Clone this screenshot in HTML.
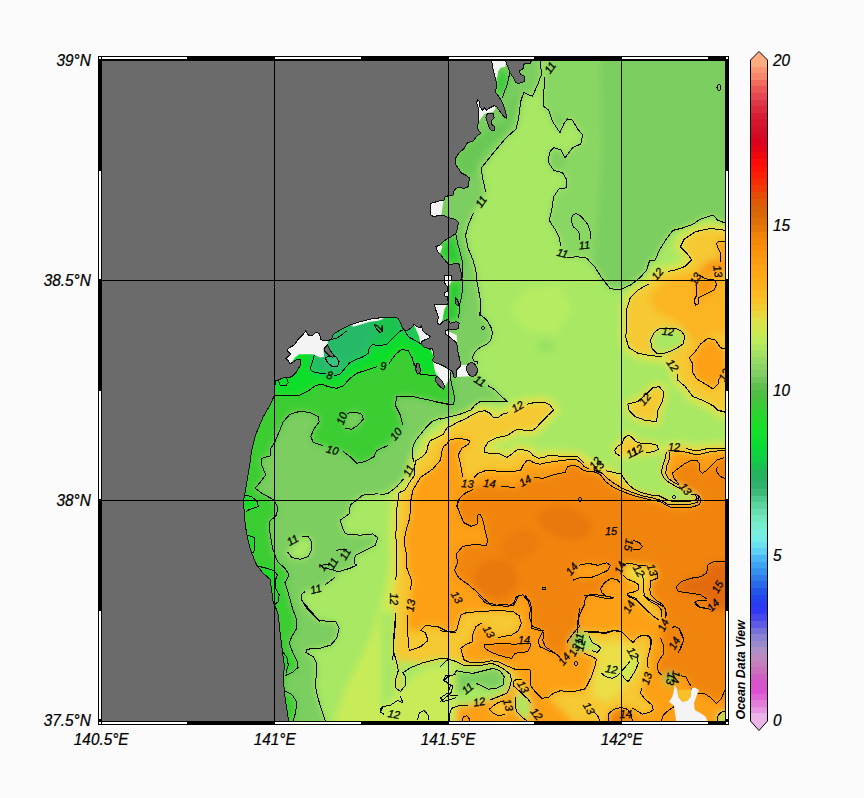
<!DOCTYPE html>
<html lang="en"><head><meta charset="utf-8"><title>Ocean Data View</title>
<style>html,body{margin:0;padding:0;background:#fbfbfb;}body{width:864px;height:798px;overflow:hidden;}svg{display:block;}text{font-family:"Liberation Sans",Arial,sans-serif;font-style:italic;fill:#000;}.ax{font-size:16.6px;stroke:#000;stroke-width:0.25px;}.cl{font-size:11px;fill:#000;stroke:#000;stroke-width:0.25px;}.ct{fill:none;stroke:#000;stroke-width:1;stroke-linejoin:round;shape-rendering:crispEdges;}</style></head><body>
<svg width="864" height="798" viewBox="0 0 864 798">
<defs>
<clipPath id="mapclip"><rect x="102" y="61" width="623" height="660"/></clipPath>
<filter id="blur" x="-5%" y="-5%" width="110%" height="110%"><feGaussianBlur stdDeviation="3.5"/></filter>
<linearGradient id="cb" x1="0" y1="0" x2="0" y2="1">
<stop offset="0.0000" stop-color="rgb(253,205,150)"/>
<stop offset="0.0132" stop-color="rgb(253,196,140)"/>
<stop offset="0.0206" stop-color="rgb(252,160,120)"/>
<stop offset="0.0353" stop-color="rgb(248,140,110)"/>
<stop offset="0.0500" stop-color="rgb(240,100,90)"/>
<stop offset="0.0721" stop-color="rgb(225,60,75)"/>
<stop offset="0.0941" stop-color="rgb(215,30,55)"/>
<stop offset="0.1162" stop-color="rgb(210,15,40)"/>
<stop offset="0.1382" stop-color="rgb(220,0,25)"/>
<stop offset="0.1603" stop-color="rgb(250,10,10)"/>
<stop offset="0.1750" stop-color="rgb(255,20,5)"/>
<stop offset="0.1971" stop-color="rgb(245,50,5)"/>
<stop offset="0.2191" stop-color="rgb(225,85,5)"/>
<stop offset="0.2338" stop-color="rgb(215,100,5)"/>
<stop offset="0.2559" stop-color="rgb(225,115,5)"/>
<stop offset="0.2706" stop-color="rgb(240,130,5)"/>
<stop offset="0.2926" stop-color="rgb(250,145,10)"/>
<stop offset="0.3221" stop-color="rgb(255,165,20)"/>
<stop offset="0.3515" stop-color="rgb(253,180,30)"/>
<stop offset="0.3735" stop-color="rgb(245,200,45)"/>
<stop offset="0.3956" stop-color="rgb(225,225,70)"/>
<stop offset="0.4176" stop-color="rgb(200,235,85)"/>
<stop offset="0.4324" stop-color="rgb(180,235,95)"/>
<stop offset="0.4544" stop-color="rgb(150,220,100)"/>
<stop offset="0.4765" stop-color="rgb(125,205,100)"/>
<stop offset="0.4985" stop-color="rgb(85,190,70)"/>
<stop offset="0.5132" stop-color="rgb(70,195,60)"/>
<stop offset="0.5353" stop-color="rgb(40,215,45)"/>
<stop offset="0.5574" stop-color="rgb(20,225,40)"/>
<stop offset="0.5794" stop-color="rgb(10,220,50)"/>
<stop offset="0.6015" stop-color="rgb(15,205,70)"/>
<stop offset="0.6235" stop-color="rgb(35,175,95)"/>
<stop offset="0.6456" stop-color="rgb(55,180,115)"/>
<stop offset="0.6603" stop-color="rgb(80,205,145)"/>
<stop offset="0.6750" stop-color="rgb(100,220,170)"/>
<stop offset="0.6897" stop-color="rgb(115,235,195)"/>
<stop offset="0.7044" stop-color="rgb(120,240,215)"/>
<stop offset="0.7191" stop-color="rgb(115,235,235)"/>
<stop offset="0.7338" stop-color="rgb(100,215,245)"/>
<stop offset="0.7485" stop-color="rgb(70,175,245)"/>
<stop offset="0.7632" stop-color="rgb(55,150,240)"/>
<stop offset="0.7779" stop-color="rgb(45,120,235)"/>
<stop offset="0.7926" stop-color="rgb(35,90,235)"/>
<stop offset="0.8074" stop-color="rgb(35,65,240)"/>
<stop offset="0.8221" stop-color="rgb(45,55,245)"/>
<stop offset="0.8368" stop-color="rgb(80,75,235)"/>
<stop offset="0.8515" stop-color="rgb(115,110,220)"/>
<stop offset="0.8662" stop-color="rgb(145,135,210)"/>
<stop offset="0.8809" stop-color="rgb(170,145,200)"/>
<stop offset="0.8956" stop-color="rgb(195,135,190)"/>
<stop offset="0.9103" stop-color="rgb(200,115,190)"/>
<stop offset="0.9250" stop-color="rgb(210,85,200)"/>
<stop offset="0.9397" stop-color="rgb(220,80,210)"/>
<stop offset="0.9544" stop-color="rgb(225,110,215)"/>
<stop offset="0.9691" stop-color="rgb(230,150,225)"/>
<stop offset="0.9838" stop-color="rgb(240,195,235)"/>
<stop offset="1.0000" stop-color="rgb(246,212,240)"/>
</linearGradient>
</defs>
<rect x="0" y="0" width="864" height="798" fill="#fbfbfb"/>
<g clip-path="url(#mapclip)">
<rect x="98" y="56" width="632" height="670" fill="#7cce60"/>
<g filter="url(#blur)">
<rect x="60" y="20" width="720" height="760" fill="#7cce60"/>
<polygon points="547.0,50.0 600.0,50.0 602.0,150.0 594.0,262.0 566.0,262.0 556.0,225.0 552.0,190.0 562.0,165.0 580.0,140.0 566.0,120.0 548.0,108.0" fill="rgb(137,215,99)"/>
<polygon points="540.0,50.0 540.0,61.3 541.7,73.8 537.5,85.1 532.4,96.3 523.7,92.6 520.7,101.4 518.7,117.6 516.2,128.9 506.1,137.7 493.6,152.7 481.1,168.3 483.1,180.3 485.6,191.6 481.1,201.6 473.5,212.9 468.5,224.2 465.5,235.4 468.0,248.0 473.0,260.0 475.8,270.0 476.7,280.0 478.3,288.3 480.0,298.3 480.8,310.0 480.0,313.3 481.7,315.8 486.7,320.0 490.8,326.7 492.5,333.3 490.8,340.0 486.7,344.2 480.0,347.5 475.0,351.7 472.5,356.7 473.3,360.8 477.5,361.7 477.5,364.2 472.0,370.0 488.3,385.8 495.0,390.0 501.7,396.7 507.5,401.7 495.0,401.3 480.0,401.7 475.0,405.0 470.8,410.0 460.0,414.2 450.0,416.7 440.0,419.2 440.0,418.3 431.7,421.7 426.7,426.7 420.0,435.0 415.0,441.7 412.5,448.3 412.5,456.7 414.2,462.5 408.3,470.0 403.3,479.2 396.7,486.7 388.3,493.3 380.0,495.0 402.9,480.1 390.4,490.1 377.8,493.8 362.8,495.1 350.3,505.1 349.0,513.9 340.3,520.2 342.8,528.9 345.3,533.9 360.3,535.2 372.8,533.9 377.8,537.7 375.3,545.2 365.3,550.2 355.3,555.2 354.2,563.3 356.7,565.0 350.0,568.3 338.3,571.7 335.0,577.5 325.0,585.0 315.8,589.2 305.0,591.7 301.7,594.2 301.7,600.0 306.7,608.3 313.3,615.0 320.0,621.7 302.5,601.7 310.0,610.0 318.3,620.0 326.7,621.3 335.8,621.7 339.2,628.3 336.7,638.3 330.8,645.0 320.0,648.3 306.7,649.2 305.8,652.5 313.3,656.7 316.7,663.3 316.7,675.0 315.0,683.3 317.5,696.7 321.7,710.0 325.3,720.8 325.0,735.0 740.0,735.0 740.0,223.0 725.0,222.9 718.0,220.4 713.0,214.9 700.5,219.1 692.9,224.2 682.9,227.9 672.9,230.4 665.4,240.5 659.1,250.5 655.3,260.0 649.8,260.0 646.6,270.0 640.3,277.5 630.3,285.1 620.3,289.6 610.2,288.8 601.5,277.5 595.2,267.5 587.7,260.0 588.8,260.0 586.3,258.0 576.3,256.7 567.5,258.0 562.5,253.0 560.8,246.0 559.3,237.9 555.0,229.2 549.2,220.4 551.7,210.4 553.7,196.6 558.8,189.1 566.3,187.8 566.3,179.0 562.5,172.8 553.7,170.3 548.7,162.8 549.2,152.7 553.7,147.7 561.3,150.2 565.0,157.7 572.5,147.7 580.8,144.0 582.6,134.7 577.6,128.9 572.5,120.2 567.5,118.9 563.8,123.9 560.0,132.7 552.5,121.4 548.7,110.1 543.7,106.4 543.7,92.6 545.0,77.5 547.0,50.0" fill="rgb(168,232,100)"/>
<polygon points="301.7,536.3 308.3,536.7 311.7,541.7 311.7,550.0 308.3,556.7 300.0,559.2 291.7,557.5 287.5,551.7" fill="rgb(168,232,100)"/>
<polygon points="415.0,560.0 425.0,640.0 420.0,720.0 395.0,735.0 330.0,735.0 345.0,690.0 370.0,640.0 385.0,590.0 395.0,540.0" fill="rgb(200,236,88)"/>
<polygon points="525.0,290.0 560.0,285.0 572.0,310.0 555.0,335.0 525.0,330.0 510.0,310.0" fill="rgb(182,236,98)"/>
<polygon points="555.0,346.0 553.3,350.1 548.8,352.7 543.2,352.7 538.7,350.1 537.0,346.0 538.7,341.9 543.2,339.3 548.8,339.3 553.3,341.9" fill="rgb(150,224,100)"/>
<polygon points="293.0,735.0 293.3,720.8 295.8,711.7 296.7,701.7 291.7,694.2 284.2,690.8 285.0,684.0 285.0,675.8 293.3,671.7 298.0,667.5 297.5,661.7 292.5,651.7 289.2,643.3 291.7,636.7 296.7,628.3 296.7,620.0 292.5,608.3 288.3,593.3 285.0,582.5 289.2,575.0 285.0,568.3 277.5,561.7 272.5,548.3 270.0,533.3 269.2,521.7 276.7,515.0 277.5,506.7 274.2,500.0 263.3,494.2 255.0,488.3 260.0,482.5 265.8,475.0 261.7,465.0 261.7,458.3 261.7,458.3 270.8,455.8 270.8,448.3 275.0,441.7 279.2,431.7 283.3,421.7 290.0,414.2 300.0,411.3 310.0,412.5 318.3,416.7 319.2,421.7 313.3,430.0 310.8,436.7 313.3,442.5 323.3,445.8 332.5,450.0 343.3,451.7 350.0,456.7 356.7,463.3 365.0,461.7 374.0,456.7 376.6,450.5 387.9,445.5 396.6,434.2 402.9,425.4 400.4,415.4 395.4,405.4 396.6,396.6 412.9,396.6 430.5,400.4 448.0,404.1 435.0,401.7 446.7,404.2 453.3,404.2 455.0,400.0 453.3,391.7 450.8,380.0 450.0,371.7 452.0,372.0 445.0,300.0 280.0,300.0 235.0,400.0 235.0,735.0" fill="rgb(58,205,50)"/>
<polygon points="346.7,413.3 355.0,412.0 361.7,414.2 363.3,419.2 358.3,425.0 351.7,429.2 345.0,428.3" fill="rgb(124,206,96)"/>
<polygon points="455.8,233.3 457.5,243.3 460.0,251.7 462.0,260.0 463.0,268.3 461.7,275.0 458.7,263.3 450.0,265.0 444.2,259.2 437.5,251.7 440.0,245.0 450.0,237.5" fill="rgb(40,205,50)"/>
<polygon points="449.2,281.7 462.0,280.0 462.5,288.3 461.7,296.7 460.0,303.3 459.2,313.3 458.3,318.3 456.7,321.7 450.0,323.3 448.3,319.2 442.5,321.7 444.2,310.0 448.3,303.3 447.5,296.7 447.5,286.7" fill="rgb(40,205,50)"/>
<polygon points="500.8,67.7 506.7,72.7 508.3,81.0 505.0,89.3 501.7,98.5 496.7,91.8 497.0,77.7 498.3,71.0" fill="rgb(40,205,50)"/>
<polygon points="507.0,118.5 510.0,106.0 513.3,97.7 518.3,89.3 520.0,97.7 516.7,111.0 510.0,126.0 498.3,139.3 486.7,149.3 476.7,162.7 473.3,176.0 470.0,178.5 459.2,169.3 455.3,164.3 455.8,157.7 464.2,148.5 473.3,141.0 480.8,133.5" fill="rgb(105,200,85)"/>
<polygon points="275.0,395.0 286.7,395.8 300.0,395.0 308.3,390.8 315.0,385.8 321.7,384.2 328.3,386.7 336.7,388.3 343.3,385.8 350.0,378.3 356.7,373.3 366.7,370.0 376.7,366.7 383.3,365.8 389.2,363.3 395.0,355.0 401.7,349.2 408.3,350.8 412.5,358.3 414.0,365.0 414.2,363.3 416.7,370.0 420.8,374.2 428.3,375.0 435.8,375.8 440.0,372.0 440.0,300.0 275.0,300.0 265.0,390.0" fill="rgb(14,222,44)"/>
<polygon points="245.0,495.0 251.7,496.7 257.5,501.7 258.3,506.7 250.0,509.2 245.8,511.7 243.0,505.0 245.0,490.0" fill="rgb(14,222,44)"/>
<polygon points="246.7,535.0 254.2,537.5 255.0,550.0 252.5,553.3 248.0,550.0 245.0,532.0" fill="rgb(14,222,44)"/>
<polygon points="256.7,565.8 266.7,568.3 274.2,570.8 277.5,575.0 275.0,580.8 275.8,588.3 279.2,595.0 278.3,601.7 274.2,605.0 272.0,600.0 262.0,575.0" fill="rgb(14,222,44)"/>
<polygon points="282.5,651.7 286.7,656.7 288.3,665.0 285.8,673.3 282.0,660.0 281.0,650.0" fill="rgb(14,222,44)"/>
<polygon points="314.2,355.0 312.5,361.7 310.0,368.3 312.5,371.7 320.0,373.3 325.8,373.7 329.7,375.0 334.2,375.8 340.0,374.2 345.0,368.3 350.0,362.5 356.7,359.2 363.3,356.7 368.3,353.3 369.2,347.5 372.5,344.7 380.0,345.8 386.7,344.2 393.3,337.5 399.2,331.7 402.5,330.0 404.0,318.0 330.0,310.0 310.0,340.0" fill="rgb(38,186,104)"/>
<polygon points="370.0,345.0 380.0,346.2 386.7,344.5 393.3,337.8 399.2,332.0 398.3,318.7 386.7,318.0 376.7,318.7 370.0,320.8 376.7,333.3" fill="rgb(30,195,80)"/>
<polygon points="401.7,325.8 408.3,336.7 420.0,343.3 420.8,343.3 418.3,336.7 415.8,330.0 413.3,325.8" fill="rgb(38,186,104)"/>
<polygon points="325.0,357.5 327.5,362.5 332.5,366.7 337.5,366.7 339.2,361.7 336.7,357.5 333.3,355.8" fill="rgb(60,200,140)"/>
<polygon points="392.9,660.0 393.4,645.5 394.9,630.4 395.9,612.9 394.1,599.1 395.9,580.3 396.6,560.3 395.9,535.2 396.6,510.1 399.1,492.6 405.0,490.0 410.0,481.7 415.0,475.0 414.2,468.3 415.8,460.8 422.5,456.7 426.7,451.7 427.5,446.7 430.0,440.8 436.7,437.5 443.3,434.2 446.7,428.3 453.3,425.0 456.7,422.5 465.0,419.2 471.7,415.0 478.3,411.7 485.0,410.8 490.0,413.3 493.3,417.5 497.5,418.0 502.5,414.2 508.3,412.5 517.5,405.8 526.7,404.2 535.0,402.5 545.0,402.5 550.0,405.0 553.7,410.0 548.3,415.0 541.7,421.7 535.8,428.3 531.7,430.8 523.3,430.0 517.5,429.2 511.7,432.5 506.7,435.8 496.7,437.5 488.3,441.7 484.2,448.3 484.2,452.5 490.0,453.3 498.3,453.3 503.3,455.8 506.7,457.5 511.7,454.2 516.7,450.0 523.3,449.7 530.0,451.7 533.3,455.8 538.3,458.3 543.3,457.5 550.0,455.0 556.7,455.8 563.3,456.7 571.7,456.7 578.3,457.0 581.7,460.8 584.0,462.5 605.7,470.8 614.0,472.5 621.5,474.2 624.8,480.0 629.0,485.0 634.0,489.2 640.7,492.5 650.7,495.0 659.0,495.8 664.0,498.3 669.0,500.8 677.3,501.7 687.3,501.3 694.0,500.8 697.3,498.3 695.7,495.0 690.7,494.2 679.8,488.3 674.8,485.8 669.0,482.5 664.0,478.3 661.5,473.3 662.3,466.7 664.8,460.0 666.5,451.7 674.0,446.7 685.7,448.3 692.3,450.0 700.7,450.0 709.0,448.3 717.3,448.3 724.8,448.3 740.0,448.0 740.0,735.0 456.0,735.0 449.2,720.8 449.2,715.0 451.7,708.3 458.3,705.8 468.3,705.0 479.2,701.7 490.0,700.0 498.3,696.7 506.7,693.3 509.2,688.3 511.7,680.0 510.0,674.2 505.0,670.0 498.3,665.8 491.7,663.3 483.3,665.0 473.3,665.8 463.3,665.0 456.7,661.7 448.3,659.2 440.0,666.7 456.0,661.5 448.0,658.9 438.0,658.9 423.0,662.7 410.4,667.7 402.9,672.7 405.9,677.7 405.4,685.3 400.4,691.5 395.4,687.8 395.4,680.3 398.4,670.2 396.6,662.7 393.4,650.2 394.1,630.1 395.9,612.6" fill="none" stroke="rgb(212,232,82)" stroke-width="12" stroke-linejoin="round"/>
<polygon points="392.9,660.0 393.4,645.5 394.9,630.4 395.9,612.9 394.1,599.1 395.9,580.3 396.6,560.3 395.9,535.2 396.6,510.1 399.1,492.6 405.0,490.0 410.0,481.7 415.0,475.0 414.2,468.3 415.8,460.8 422.5,456.7 426.7,451.7 427.5,446.7 430.0,440.8 436.7,437.5 443.3,434.2 446.7,428.3 453.3,425.0 456.7,422.5 465.0,419.2 471.7,415.0 478.3,411.7 485.0,410.8 490.0,413.3 493.3,417.5 497.5,418.0 502.5,414.2 508.3,412.5 517.5,405.8 526.7,404.2 535.0,402.5 545.0,402.5 550.0,405.0 553.7,410.0 548.3,415.0 541.7,421.7 535.8,428.3 531.7,430.8 523.3,430.0 517.5,429.2 511.7,432.5 506.7,435.8 496.7,437.5 488.3,441.7 484.2,448.3 484.2,452.5 490.0,453.3 498.3,453.3 503.3,455.8 506.7,457.5 511.7,454.2 516.7,450.0 523.3,449.7 530.0,451.7 533.3,455.8 538.3,458.3 543.3,457.5 550.0,455.0 556.7,455.8 563.3,456.7 571.7,456.7 578.3,457.0 581.7,460.8 584.0,462.5 605.7,470.8 614.0,472.5 621.5,474.2 624.8,480.0 629.0,485.0 634.0,489.2 640.7,492.5 650.7,495.0 659.0,495.8 664.0,498.3 669.0,500.8 677.3,501.7 687.3,501.3 694.0,500.8 697.3,498.3 695.7,495.0 690.7,494.2 679.8,488.3 674.8,485.8 669.0,482.5 664.0,478.3 661.5,473.3 662.3,466.7 664.8,460.0 666.5,451.7 674.0,446.7 685.7,448.3 692.3,450.0 700.7,450.0 709.0,448.3 717.3,448.3 724.8,448.3 740.0,448.0 740.0,735.0 456.0,735.0 449.2,720.8 449.2,715.0 451.7,708.3 458.3,705.8 468.3,705.0 479.2,701.7 490.0,700.0 498.3,696.7 506.7,693.3 509.2,688.3 511.7,680.0 510.0,674.2 505.0,670.0 498.3,665.8 491.7,663.3 483.3,665.0 473.3,665.8 463.3,665.0 456.7,661.7 448.3,659.2 440.0,666.7 456.0,661.5 448.0,658.9 438.0,658.9 423.0,662.7 410.4,667.7 402.9,672.7 405.9,677.7 405.4,685.3 400.4,691.5 395.4,687.8 395.4,680.3 398.4,670.2 396.6,662.7 393.4,650.2 394.1,630.1 395.9,612.6" fill="rgb(246,200,48)"/>
<polygon points="725.5,230.4 710.5,228.4 695.4,231.7 684.2,239.2 680.4,246.7 686.7,253.0 691.7,260.0 691.7,260.0 685.4,266.3 675.4,270.0 667.9,271.3 657.3,273.8 649.1,283.8 637.8,290.1 630.3,297.6 626.5,310.1 626.5,325.2 625.8,337.7 629.0,347.7 637.8,353.2 650.3,355.7 661.6,356.5 665.4,354.7 672.9,365.3 677.4,374.0 677.9,380.3 685.4,386.6 692.9,396.6 703.0,400.4 713.0,405.4 718.0,410.4 725.0,412.4 740.0,412.0 740.0,230.0" fill="none" stroke="rgb(212,232,82)" stroke-width="12" stroke-linejoin="round"/>
<polygon points="725.5,230.4 710.5,228.4 695.4,231.7 684.2,239.2 680.4,246.7 686.7,253.0 691.7,260.0 691.7,260.0 685.4,266.3 675.4,270.0 667.9,271.3 657.3,273.8 649.1,283.8 637.8,290.1 630.3,297.6 626.5,310.1 626.5,325.2 625.8,337.7 629.0,347.7 637.8,353.2 650.3,355.7 661.6,356.5 665.4,354.7 672.9,365.3 677.4,374.0 677.9,380.3 685.4,386.6 692.9,396.6 703.0,400.4 713.0,405.4 718.0,410.4 725.0,412.4 740.0,412.0 740.0,230.0" fill="rgb(246,200,48)"/>
<polygon points="637.8,401.6 627.8,404.1 629.0,410.4 635.3,416.6 645.3,420.4 656.6,421.7 657.8,410.4 662.9,400.4 663.4,391.6 659.1,386.6 652.8,387.8 647.8,392.8" fill="none" stroke="rgb(212,232,82)" stroke-width="8" stroke-linejoin="round"/>
<polygon points="637.8,401.6 627.8,404.1 629.0,410.4 635.3,416.6 645.3,420.4 656.6,421.7 657.8,410.4 662.9,400.4 663.4,391.6 659.1,386.6 652.8,387.8 647.8,392.8" fill="rgb(246,200,48)"/>
<polygon points="645.7,452.5 654.0,451.7 658.2,449.2 657.3,445.3 650.7,443.7 642.3,443.7 635.7,441.7 632.3,437.5 628.2,435.0 624.0,438.3 622.3,443.3 617.3,446.7 614.8,450.0 615.7,453.3 619.8,455.8" fill="none" stroke="rgb(212,232,82)" stroke-width="6" stroke-linejoin="round"/>
<polygon points="645.7,452.5 654.0,451.7 658.2,449.2 657.3,445.3 650.7,443.7 642.3,443.7 635.7,441.7 632.3,437.5 628.2,435.0 624.0,438.3 622.3,443.3 617.3,446.7 614.8,450.0 615.7,453.3 619.8,455.8" fill="rgb(246,200,48)"/>
<polygon points="676.6,328.9 681.7,331.4 684.9,336.4 682.9,344.0 675.4,349.0 666.6,352.7 657.8,354.0 652.3,349.0 650.3,340.2 654.1,332.7 659.1,328.9" fill="rgb(168,232,100)"/>
<polygon points="409.2,650.5 407.4,630.4 407.4,615.4 410.4,605.4 410.4,590.3 411.7,580.3 406.7,567.8 406.7,555.2 404.2,542.7 405.4,532.7 409.9,517.6 410.4,502.6 412.9,490.1 420.5,477.5 433.0,468.8 440.5,460.0 440.5,460.0 440.8,458.3 441.7,451.7 443.3,446.7 446.7,444.2 450.0,440.0 456.7,438.3 465.0,439.2 470.0,440.8 468.3,444.2 461.7,448.3 458.3,455.0 460.0,461.7 461.7,470.0 462.5,476.7 462.5,476.7 467.5,481.7 474.2,477.5 478.3,473.3 485.0,470.8 493.3,470.0 498.3,471.7 506.7,471.7 515.0,471.3 520.8,470.0 523.3,465.0 526.7,460.8 530.0,460.0 533.3,462.5 540.0,464.2 546.7,462.5 553.3,461.7 560.0,460.8 568.3,459.7 576.7,459.7 581.7,463.3 584.0,466.7 589.0,468.7 594.0,470.0 602.3,473.3 607.3,478.3 614.0,483.3 622.3,488.3 632.3,492.5 642.3,495.8 654.0,498.3 662.3,500.8 667.3,504.2 677.3,505.0 690.7,504.2 697.3,502.5 699.0,498.3 697.3,495.0 693.2,494.2 679.0,485.0 674.0,482.5 668.2,478.3 665.7,473.3 666.5,466.7 669.0,460.0 669.8,451.7 670.7,450.8 684.0,451.7 690.7,453.3 697.3,455.0 704.0,453.3 710.7,451.7 719.0,450.8 724.8,450.0 740.0,450.0 740.0,735.0 409.0,735.0" fill="rgb(253,160,18)"/>
<polygon points="725.0,349.0 720.5,347.7 715.5,340.2 708.0,338.2 700.5,344.0 695.4,351.5 689.2,357.7 692.9,364.0 692.9,372.8 696.7,379.0 705.5,384.1 713.0,389.1 718.0,384.1 719.2,377.8 728.0,377.8" fill="rgb(253,160,18)"/>
<polygon points="675.4,277.5 695.4,272.5 728.0,270.0 728.0,335.2 715.5,332.7 705.5,335.2 695.4,345.2 687.9,332.7 675.4,320.2 655.3,310.1 650.3,297.6 657.8,287.6" fill="rgb(251,180,32)"/>
<polygon points="696.7,285.1 696.7,295.1 694.2,300.1 695.4,305.1 698.4,303.9 698.4,297.6 706.7,293.8 714.2,290.1 716.7,283.8 714.2,280.1 705.5,278.8 699.2,275.0 728.0,270.0 728.0,260.0 710.5,260.0 700.5,267.5" fill="rgb(248,150,18)"/>
<polygon points="440.0,630.8 448.3,631.7 456.7,630.8 458.3,623.3 460.8,615.0 466.7,612.5 478.3,611.7 491.7,610.8 503.3,610.8 513.3,611.7 519.2,615.8 521.3,623.3 518.3,630.8 511.7,635.0 498.3,637.5 489.2,630.8 482.5,622.5 475.8,626.7 472.5,635.0 472.5,641.7 465.0,645.0 460.8,648.3 462.5,655.0 464.2,660.0 470.0,662.5 481.7,662.5 491.7,660.8 498.3,661.7 506.7,665.8 515.0,669.2 523.3,695.0 518.3,690.0 513.3,685.8 513.3,681.7 510.0,674.2 505.0,670.0 498.3,665.8 491.7,663.3 483.3,665.0 473.3,665.8 463.3,665.0 456.7,661.7 448.3,659.2 440.0,666.7 406.7,666.7 406.7,630.8" fill="rgb(246,200,48)"/>
<polygon points="409.2,650.5 420.5,646.7 428.0,640.5 425.5,632.9 420.5,630.4 425.5,625.4 438.0,626.7 448.0,631.7 456.0,632.9 456.0,685.6 390.4,685.6 392.9,650.5" fill="rgb(246,200,48)"/>
<polygon points="584.0,631.7 594.0,631.7 605.7,632.5 614.0,630.0 621.5,631.7 627.3,637.5 633.2,642.5 637.3,637.5 642.3,635.3 649.0,636.3 651.0,640.8 649.8,650.0 647.3,660.0 648.2,668.3 646.5,678.3 641.5,688.3 640.7,693.3 645.7,700.0 652.3,705.0 653.2,710.0 649.0,712.5 642.3,714.2 635.7,710.0 632.3,708.3 620.7,707.5 609.0,713.3 608.2,723.3 574.0,723.3 548.3,697.5 553.3,693.3 560.0,690.8 573.3,691.7 584.0,690.0 587.3,685.0 591.5,676.7 594.8,666.7 596.5,659.2 592.3,656.7 584.0,653.3 573.3,645.0 571.7,636.7 578.3,628.3" fill="rgb(246,200,48)"/>
<polygon points="594.0,645.0 614.0,641.7 634.0,645.0 640.7,658.3 634.0,675.0 624.0,688.3 609.0,701.7 594.0,698.3 590.7,678.3 597.3,661.7" fill="rgb(235,222,70)"/>
<polygon points="621.5,670.8 625.7,666.7 629.8,661.7 634.0,653.3 637.3,655.0 638.2,663.3 635.7,670.0 631.5,676.7 628.2,681.7 624.0,678.3 622.3,675.0" fill="rgb(200,236,88)"/>
<polygon points="600.7,672.5 605.7,676.7 612.3,678.3 617.3,675.8 619.8,673.3 617.3,668.3 609.0,666.7" fill="rgb(200,236,88)"/>
<polygon points="623.2,565.8 627.3,563.0 634.0,564.2 640.7,565.8 645.7,565.0 652.3,565.8 657.3,573.3 657.3,578.3 650.7,580.8 649.8,590.0 650.7,595.0 655.7,600.0 662.3,604.2 665.7,610.0 665.7,616.7 659.0,620.0 654.0,616.7 647.3,610.8 640.7,605.0 635.7,600.0 629.0,596.7 627.0,593.3 632.3,592.5 638.2,590.0 639.0,585.0 634.0,581.7 627.3,579.2 623.2,575.0" fill="rgb(246,200,48)"/>
<polygon points="625.7,568.3 634.0,566.7 641.5,570.0 643.2,581.7 642.3,590.0 640.7,585.0 634.0,580.0 627.3,576.7" fill="rgb(246,216,55)"/>
<polygon points="632.3,570.0 637.3,573.3 642.3,575.0 639.0,578.3 634.0,576.7" fill="rgb(200,236,88)"/>
<polygon points="725.0,241.5 720.0,241.0 716.7,243.0 717.5,247.0 720.0,252.0 721.0,258.0 720.5,262.0 740.0,262.0 740.0,241.0" fill="rgb(253,160,18)"/>
<polygon points="560.3,656.7 552.8,651.7 545.3,646.7 542.8,640.5 544.0,632.9 540.3,629.2 532.7,626.7 529.7,617.9 530.2,607.9 527.7,600.4 522.7,594.8 516.4,596.6 513.9,602.9 507.7,606.6 497.6,605.4 488.9,602.9 481.4,596.6 475.1,590.3 467.6,584.1 458.8,577.8 454.5,570.3 457.5,562.8 456.3,554.0 462.6,546.5 472.6,544.7 486.4,545.2 487.6,540.2 485.1,530.2 482.6,518.9 480.1,513.9 477.6,515.1 477.6,523.9 471.3,526.4 463.8,522.7 460.1,513.9 457.0,505.1 460.1,497.6 467.6,491.3 473.3,489.2 479.2,485.8 489.2,483.3 500.8,486.3 515.0,487.5 525.0,480.8 534.2,477.5 543.3,478.3 553.3,475.0 560.0,473.3 565.0,472.5 567.5,466.7 573.3,465.0 578.3,466.7 584.0,470.8 584.0,470.8 594.0,471.7 600.7,475.0 605.7,481.7 612.3,486.7 620.7,490.8 634.0,495.8 650.7,500.0 660.7,501.7 665.7,505.0 670.7,507.5 684.0,508.0 694.0,506.7 699.8,504.2 700.7,499.2 698.2,495.0 679.0,484.2 674.0,478.3 672.3,473.3 677.3,469.2 684.0,464.2 690.7,460.8 697.3,460.8 699.8,464.2 699.0,470.0 702.3,473.3 707.3,470.0 712.3,465.0 717.3,460.0 724.0,457.5 740.0,455.0 740.0,735.0 725.0,735.0 724.8,690.0 721.5,698.3 716.5,703.3 710.7,697.5 704.0,693.3 697.3,693.3 690.7,688.3 685.7,676.7 680.7,675.8 661.5,675.0 658.2,671.7 657.3,665.0 659.8,659.2 664.0,653.3 663.2,646.7 660.7,638.3 665.7,618.3 666.5,613.3 664.8,607.5 659.0,604.2 650.7,600.0 643.2,595.0 665.7,616.7 665.7,610.0 662.3,604.2 655.7,600.0 650.7,595.0 649.8,590.0 650.7,580.8 657.3,578.3 657.3,573.3 652.3,565.8 645.7,565.0 640.7,565.8 634.0,564.2 627.3,563.0 623.2,565.8 619.8,582.5 616.5,579.2 610.7,578.7 604.8,582.5 600.7,588.3 601.5,592.5 607.3,596.7 614.0,597.5 612.9,597.3 600.4,595.3 590.4,594.1 585.4,597.8 584.1,605.4 580.4,612.9 577.8,620.4 577.8,632.9 580.0,608.3 578.3,616.7 579.2,626.7 573.3,633.3 568.3,640.0 566.7,643.3 564.0,657.0" fill="rgb(241,132,9)"/>
<polygon points="579.1,565.3 587.9,563.3 597.9,565.3 606.7,562.8 610.4,565.3 607.9,570.3 600.4,574.0 590.4,577.8 580.4,577.3 572.8,580.3" fill="rgb(253,160,18)"/>
<polygon points="584.0,564.2 592.3,565.0 600.7,565.8 607.3,563.7 610.3,565.0 609.8,569.2 604.0,575.0 597.3,578.3 590.7,577.5 584.0,577.5 574.0,578.3 574.0,565.0" fill="rgb(253,160,18)"/>
<polygon points="513.3,644.2 503.3,643.3 491.7,644.2 484.2,644.7 484.2,647.5 490.0,651.7 498.3,655.0 506.7,657.5 511.7,658.3 515.0,653.3 521.7,652.5 527.5,651.7 530.0,647.5 530.8,643.3" fill="rgb(241,132,9)"/>
<polygon points="608.2,720.8 609.0,713.3 614.0,709.2 620.7,707.5 627.3,709.2 631.5,715.0 632.3,720.8 632.3,728.3 608.2,728.3" fill="rgb(241,132,9)"/>
<polygon points="734.0,561.7 714.0,561.7 708.2,564.2 706.5,573.3 700.7,576.7 690.7,578.3 681.5,581.7 676.5,586.7 677.3,590.8 684.0,592.5 692.3,593.3 700.7,595.0 707.3,599.2 710.7,609.2 734.0,610.0" fill="rgb(226,106,8)"/>
<polygon points="518.0,578.0 515.1,588.0 507.0,595.3 496.0,598.0 485.0,595.3 476.9,588.0 474.0,578.0 476.9,568.0 485.0,560.7 496.0,558.0 507.0,560.7 515.1,568.0" fill="rgb(233,120,12)"/>
<polygon points="592.0,530.2 586.4,537.0 574.9,540.0 560.9,538.5 547.9,532.8 539.5,524.5 538.0,515.8 543.6,509.0 555.1,506.0 569.1,507.5 582.1,513.2 590.5,521.5" fill="rgb(233,120,12)"/>
<polygon points="537.3,535.0 538.5,542.4 534.7,550.5 527.0,557.1 517.4,560.5 508.5,559.7 502.7,555.0 501.5,547.6 505.3,539.5 513.0,532.9 522.6,529.5 531.5,530.3" fill="rgb(235,123,13)"/>
<polygon points="440.0,666.7 448.3,659.2 456.7,661.7 463.3,665.0 473.3,665.8 483.3,665.0 491.7,663.3 498.3,665.8 505.0,670.0 510.0,674.2 511.7,680.0 509.2,688.3 506.7,693.3 498.3,696.7 490.0,700.0 479.2,701.7 468.3,705.0 458.3,705.8 451.7,708.3 449.2,715.0 449.2,720.8 440.0,735.0 400.0,735.0 400.0,660.0" fill="rgb(168,232,100)"/>
<polygon points="440.0,701.7 445.0,698.3 451.7,691.7 452.5,685.8 447.5,683.3 443.3,680.0 445.8,675.8 453.3,675.0 456.7,670.8 465.0,672.5 473.3,673.3 483.3,670.8 493.3,668.3 500.0,670.8 504.2,676.7 503.3,685.0 496.7,688.3 488.3,689.2 481.7,685.8 475.8,683.3 467.5,688.3 458.3,695.8 450.0,695.8 440.0,701.7" fill="rgb(124,206,96)"/>
<polygon points="395.9,612.6 394.1,630.1 393.4,650.2 396.6,662.7 398.4,670.2 395.4,680.3 395.4,687.8 400.4,691.5 405.4,685.3 405.9,677.7 402.9,672.7 410.4,667.7 423.0,662.7 438.0,658.9 448.0,658.9 456.0,661.5 456.0,755.4 380.4,755.4 380.4,612.6" fill="rgb(168,232,100)"/>
<polygon points="400.4,691.5 405.4,685.3 415.4,675.2 430.5,667.7 456.0,665.2 456.0,735.4 380.4,735.4 380.4,711.6 390.4,700.3" fill="rgb(200,236,88)"/>
<polygon points="503.3,700.8 496.7,703.3 489.2,709.2 493.3,713.3 498.3,715.8 505.0,714.2 510.0,708.3" fill="rgb(246,200,48)"/>
<polygon points="513.3,681.7 516.7,679.2 521.7,680.0 526.7,688.3 530.8,703.3 533.3,721.7 526.7,720.8 521.7,716.7 516.7,711.7 515.0,705.0 515.0,696.7" fill="rgb(246,200,48)"/>
<polygon points="515.0,696.7 515.0,705.0 516.7,711.7 521.7,716.7 526.7,720.8 530.8,711.7 528.3,699.2 523.3,695.0 518.3,693.3" fill="rgb(168,232,100)"/>
<polygon points="675.3,678.3 674.6,681.5 672.5,683.9 669.8,684.8 667.0,683.9 665.0,681.5 664.3,678.3 665.0,675.0 667.0,672.7 669.8,671.8 672.5,672.7 674.6,675.0" fill="rgb(90,205,85)"/>
<polygon points="573.3,633.3 584.0,630.8 590.0,638.3 584.0,650.0 575.0,651.7 570.0,643.3" fill="rgb(110,208,95)"/>
<polygon points="580.7,635.0 589.0,635.8 592.3,642.5 597.3,645.0 600.7,648.3 597.3,652.5 592.3,650.8 584.0,650.0 577.3,645.0" fill="rgb(168,232,100)"/>
<polygon points="717.3,723.3 718.2,715.0 722.3,711.7 729.0,710.0 729.0,723.3" fill="rgb(168,232,100)"/>
<polygon points="605.7,470.8 614.0,472.5 621.5,474.2 624.8,480.0 629.0,485.0 634.0,489.2 640.7,492.5 650.7,495.0 659.0,495.8 664.0,498.3 669.0,500.8 677.3,501.7 687.3,501.3 694.0,500.8 697.3,498.3 695.7,495.0 690.7,494.2 679.8,488.3 674.8,485.8 669.0,482.5 664.0,478.3 661.5,473.3 662.3,466.7 664.8,460.0 666.5,451.7" fill="rgb(168,232,100)"/>
</g>
<path class="ct" d="M314.2 355.0 L312.5 361.7 L310.0 368.3 L312.5 371.7 L320.0 373.3 L325.8 373.7"/>
<path class="ct" d="M334.2 375.8 L340.0 374.2 L345.0 368.3 L350.0 362.5 L356.7 359.2 L363.3 356.7 L368.3 353.3 L369.2 347.5 L372.5 344.7 L380.0 345.8 L386.7 344.2 L393.3 337.5 L399.2 331.7 L402.5 330.0"/>
<path class="ct" d="M374.2 324.2 L376.7 329.2 L380.0 332.5 L383.0 330.8 L382.5 327.5"/>
<path class="ct" d="M331.7 339.2 L336.7 338.3 L341.7 335.0 L346.7 330.8"/>
<path class="ct" d="M278.3 380.0 L280.0 385.0 L285.8 385.8 L288.3 382.5 L286.7 378.3"/>
<path class="ct" d="M275.0 395.0 L286.7 395.8 L300.0 395.0 L308.3 390.8 L315.0 385.8 L321.7 384.2 L328.3 386.7 L336.7 388.3 L343.3 385.8 L350.0 378.3 L356.7 373.3 L366.7 370.0 L376.7 366.7"/>
<path class="ct" d="M389.2 363.3 L395.0 355.0 L401.7 349.2 L408.3 350.8 L412.5 358.3 L414.0 365.0 L414.2 363.3 L416.7 370.0 L420.8 374.2 L428.3 375.0 L435.8 375.8"/>
<path class="ct" d="M401.7 325.8 L408.3 336.7 L420.0 343.3"/>
<path class="ct" d="M261.7 458.3 L270.8 455.8 L270.8 448.3 L275.0 441.7 L279.2 431.7 L283.3 421.7 L290.0 414.2 L300.0 411.3 L310.0 412.5 L318.3 416.7 L319.2 421.7 L313.3 430.0 L310.8 436.7 L313.3 442.5 L323.3 445.8"/>
<path class="ct" d="M343.3 451.7 L350.0 456.7 L356.7 463.3 L365.0 461.7 L374.0 456.7 L376.6 450.5 L387.9 445.5"/>
<path class="ct" d="M402.9 425.4 L400.4 415.4 L395.4 405.4 L396.6 396.6 L412.9 396.6 L430.5 400.4 L448.0 404.1 L435.0 401.7 L446.7 404.2 L453.3 404.2 L455.0 400.0 L453.3 391.7 L450.8 380.0 L450.0 371.7"/>
<path class="ct" d="M261.7 458.3 L261.7 465.0 L265.8 475.0 L260.0 482.5 L255.0 488.3 L263.3 494.2 L274.2 500.0 L277.5 506.7 L276.7 515.0 L269.2 521.7 L270.0 533.3 L272.5 548.3 L277.5 561.7 L285.0 568.3 L289.2 575.0 L285.0 582.5 L288.3 593.3 L292.5 608.3 L296.7 620.0 L296.7 628.3 L291.7 636.7 L289.2 643.3 L292.5 651.7 L297.5 661.7 L298.0 667.5 L293.3 671.7 L285.0 675.8"/>
<path class="ct" d="M284.2 690.8 L291.7 694.2 L296.7 701.7 L295.8 711.7 L293.3 720.8"/>
<path class="ct" d="M346.7 413.3 L355.0 412.0 L361.7 414.2 L363.3 419.2 L358.3 425.0 L351.7 429.2 L345.0 428.3"/>
<path class="ct" d="M245.0 495.0 L251.7 496.7 L257.5 501.7 L258.3 506.7 L250.0 509.2 L245.8 511.7"/>
<path class="ct" d="M246.7 535.0 L254.2 537.5 L255.0 550.0 L252.5 553.3"/>
<path class="ct" d="M256.7 565.8 L266.7 568.3 L274.2 570.8 L277.5 575.0 L275.0 580.8 L275.8 588.3 L279.2 595.0 L278.3 601.7 L274.2 605.0"/>
<path class="ct" d="M282.5 651.7 L286.7 656.7 L288.3 665.0 L285.8 673.3"/>
<path class="ct" d="M301.7 536.3 L308.3 536.7 L311.7 541.7 L311.7 550.0 L308.3 556.7 L300.0 559.2 L291.7 557.5 L287.5 551.7"/>
<path class="ct" d="M377.8 493.8 L362.8 495.1 L350.3 505.1 L349.0 513.9 L340.3 520.2 L342.8 528.9 L345.3 533.9 L360.3 535.2 L372.8 533.9 L377.8 537.7 L375.3 545.2 L365.3 550.2 L355.3 555.2 L354.2 563.3 L356.7 565.0 L350.0 568.3 L338.3 571.7 L330.0 569.2 L323.3 568.3 L321.7 565.8 L325.0 564.2 L330.0 565.0"/>
<path class="ct" d="M335.8 550.8 L340.0 549.2 L346.7 550.0"/>
<path class="ct" d="M335.0 577.5 L325.0 585.0"/>
<path class="ct" d="M305.0 591.7 L301.7 594.2 L301.7 600.0 L306.7 608.3 L313.3 615.0 L320.0 621.7 L302.5 601.7 L310.0 610.0 L318.3 620.0 L326.7 621.3 L335.8 621.7 L339.2 628.3 L336.7 638.3 L330.8 645.0 L320.0 648.3 L306.7 649.2 L305.8 652.5 L313.3 656.7 L316.7 663.3 L316.7 675.0 L315.0 683.3 L317.5 696.7 L321.7 710.0 L325.3 720.8"/>
<path class="ct" d="M384.0 705.8 L380.8 708.3 L380.8 712.5 L384.0 714.2"/>
<path class="ct" d="M540.0 61.3 L541.7 73.8 L537.5 85.1 L532.4 96.3 L523.7 92.6 L520.7 101.4 L518.7 117.6 L516.2 128.9 L506.1 137.7 L493.6 152.7 L481.1 168.3 L483.1 180.3 L485.6 191.6"/>
<path class="ct" d="M473.5 212.9 L468.5 224.2 L465.5 235.4 L468.0 248.0 L473.0 260.0 L475.8 270.0 L476.7 280.0 L478.3 288.3 L480.0 298.3 L480.8 310.0 L480.0 313.3 L481.7 315.8 L486.7 320.0 L490.8 326.7 L492.5 333.3 L490.8 340.0 L486.7 344.2 L480.0 347.5 L475.0 351.7 L472.5 356.7 L473.3 360.8 L477.5 361.7 L477.5 364.2"/>
<path class="ct" d="M545.0 77.5 L543.7 92.6 L543.7 106.4 L548.7 110.1 L552.5 121.4 L560.0 132.7 L563.8 123.9 L567.5 118.9 L572.5 120.2 L577.6 128.9 L582.6 134.7 L580.8 144.0 L572.5 147.7 L565.0 157.7 L561.3 150.2 L553.7 147.7 L549.2 152.7 L548.7 162.8 L553.7 170.3 L562.5 172.8 L566.3 179.0 L566.3 187.8 L558.8 189.1 L553.7 196.6 L551.7 210.4 L549.2 220.4 L555.0 229.2 L559.3 237.9 L560.8 246.0"/>
<path class="ct" d="M567.5 258.0 L576.3 256.7 L586.3 258.0 L588.8 260.0 L587.7 260.0 L595.2 267.5 L601.5 277.5 L610.2 288.8 L620.3 289.6 L630.3 285.1 L640.3 277.5 L646.6 270.0 L649.8 260.0 L655.3 260.0 L659.1 250.5 L665.4 240.5 L672.9 230.4 L682.9 227.9 L692.9 224.2 L700.5 219.1 L713.0 214.9 L718.0 220.4 L725.0 222.9"/>
<path class="ct" d="M576.3 213.4 L581.3 216.6 L587.6 224.2 L590.8 232.9 L590.6 239.2"/>
<path class="ct" d="M580.1 240.5 L578.8 231.7 L573.3 226.7 L571.3 220.4 L572.5 215.4 L576.3 213.4"/>
<path class="ct" d="M509.9 72.5 L507.4 83.8 L502.4 97.6"/>
<path class="ct" d="M455.8 233.3 L457.5 243.3 L460.0 251.7 L462.0 260.0 L463.0 268.3 L462.0 278.3 L462.5 288.3 L461.7 296.7 L460.0 303.3 L459.2 313.3 L458.3 318.3"/>
<path class="ct" d="M725.5 230.4 L710.5 228.4 L695.4 231.7 L684.2 239.2 L680.4 246.7 L686.7 253.0 L691.7 260.0 L691.7 260.0 L685.4 266.3 L675.4 270.0 L667.9 271.3"/>
<path class="ct" d="M649.1 283.8 L637.8 290.1 L630.3 297.6 L626.5 310.1 L626.5 325.2 L625.8 337.7 L629.0 347.7 L637.8 353.2 L650.3 355.7 L661.6 356.5"/>
<path class="ct" d="M677.4 374.0 L677.9 380.3 L685.4 386.6 L692.9 396.6 L703.0 400.4 L713.0 405.4 L718.0 410.4 L725.0 412.4"/>
<path class="ct" d="M725.0 349.0 L720.5 347.7 L715.5 340.2 L708.0 338.2 L700.5 344.0 L695.4 351.5 L689.2 357.7 L692.9 364.0 L692.9 372.8 L696.7 379.0 L705.5 384.1 L713.0 389.1 L718.0 384.1 L719.2 377.8"/>
<path class="ct" d="M696.7 285.1 L696.7 295.1 L694.2 300.1 L695.4 305.1 L698.4 303.9 L698.4 297.6 L706.7 293.8 L714.2 290.1 L716.7 283.8 L714.2 280.1 L705.5 278.8 L699.2 275.0"/>
<path class="ct" d="M645.7 452.5 L654.0 451.7 L658.2 449.2 L657.3 445.3 L650.7 443.7 L642.3 443.7 L635.7 441.7 L632.3 437.5 L628.2 435.0 L624.0 438.3 L622.3 443.3 L617.3 446.7 L614.8 450.0 L615.7 453.3 L619.8 455.8"/>
<path class="ct" d="M685.7 448.3 L692.3 450.0 L700.7 450.0 L709.0 448.3 L717.3 448.3 L724.8 448.3"/>
<path class="ct" d="M670.7 450.8 L684.0 451.7 L690.7 453.3 L697.3 455.0 L704.0 453.3 L710.7 451.7 L719.0 450.8 L724.8 450.0"/>
<path class="ct" d="M666.5 451.7 L664.8 460.0 L662.3 466.7 L661.5 473.3 L664.0 478.3 L669.0 482.5 L674.8 485.8 L679.8 488.3"/>
<path class="ct" d="M669.8 451.7 L669.0 460.0 L666.5 466.7 L665.7 473.3 L668.2 478.3 L674.0 482.5 L679.0 485.0"/>
<path class="ct" d="M679.0 484.2 L674.0 478.3 L672.3 473.3 L677.3 469.2 L684.0 464.2 L690.7 460.8 L697.3 460.8 L699.8 464.2 L699.0 470.0 L702.3 473.3 L707.3 470.0 L712.3 465.0 L717.3 460.0 L724.0 457.5"/>
<path class="ct" d="M605.7 470.8 L614.0 472.5 L621.5 474.2 L624.8 480.0 L629.0 485.0 L634.0 489.2 L640.7 492.5 L650.7 495.0 L659.0 495.8 L664.0 498.3 L669.0 500.8 L677.3 501.7 L687.3 501.3 L694.0 500.8 L697.3 498.3 L695.7 495.0 L690.7 494.2"/>
<path class="ct" d="M594.0 470.0 L602.3 473.3 L607.3 478.3 L614.0 483.3 L622.3 488.3 L632.3 492.5 L642.3 495.8 L654.0 498.3 L662.3 500.8 L667.3 504.2 L677.3 505.0 L690.7 504.2 L697.3 502.5 L699.0 498.3 L697.3 495.0 L693.2 494.2"/>
<path class="ct" d="M584.0 470.8 L594.0 471.7 L600.7 475.0 L605.7 481.7 L612.3 486.7 L620.7 490.8 L634.0 495.8 L650.7 500.0 L660.7 501.7 L665.7 505.0 L670.7 507.5 L684.0 508.0 L694.0 506.7 L699.8 504.2 L700.7 499.2 L698.2 495.0"/>
<path class="ct" d="M717.3 466.7 L716.5 471.7 L720.7 476.7 L724.8 478.3"/>
<path class="ct" d="M702.3 400.0 L710.7 404.2 L717.3 410.0 L724.8 411.7"/>
<path class="ct" d="M488.3 385.8 L495.0 390.0 L501.7 396.7 L507.5 401.7 L495.0 401.3 L480.0 401.7 L475.0 405.0 L470.8 410.0 L460.0 414.2 L450.0 416.7 L440.0 419.2 L440.0 418.3 L431.7 421.7 L426.7 426.7 L420.0 435.0 L415.0 441.7 L412.5 448.3 L412.5 456.7 L414.2 462.5"/>
<path class="ct" d="M403.3 479.2 L396.7 486.7 L388.3 493.3 L380.0 495.0"/>
<path class="ct" d="M392.9 660.0 L393.4 645.5 L394.9 630.4 L395.9 612.9"/>
<path class="ct" d="M395.9 580.3 L396.6 560.3 L395.9 535.2 L396.6 510.1 L399.1 492.6 L405.0 490.0 L410.0 481.7 L415.0 475.0 L414.2 468.3 L415.8 460.8 L422.5 456.7 L426.7 451.7 L427.5 446.7 L430.0 440.8 L436.7 437.5 L443.3 434.2 L446.7 428.3 L453.3 425.0 L456.7 422.5 L465.0 419.2 L471.7 415.0 L478.3 411.7 L485.0 410.8 L490.0 413.3 L493.3 417.5 L497.5 418.0 L502.5 414.2 L508.3 412.5"/>
<path class="ct" d="M526.7 404.2 L535.0 402.5 L545.0 402.5 L550.0 405.0 L553.7 410.0 L548.3 415.0 L541.7 421.7 L535.8 428.3 L531.7 430.8 L523.3 430.0 L517.5 429.2 L511.7 432.5 L506.7 435.8 L496.7 437.5 L488.3 441.7 L484.2 448.3 L484.2 452.5 L490.0 453.3 L498.3 453.3 L503.3 455.8 L506.7 457.5 L511.7 454.2 L516.7 450.0 L523.3 449.7 L530.0 451.7 L533.3 455.8 L538.3 458.3 L543.3 457.5 L550.0 455.0 L556.7 455.8 L563.3 456.7 L571.7 456.7 L578.3 457.0 L581.7 460.8 L584.0 462.5"/>
<path class="ct" d="M440.5 460.0 L433.0 468.8 L420.5 477.5 L412.9 490.1 L410.4 502.6 L409.9 517.6 L405.4 532.7 L404.2 542.7 L406.7 555.2 L406.7 567.8 L411.7 580.3 L410.4 590.3"/>
<path class="ct" d="M407.4 615.4 L407.4 630.4 L409.2 650.5 L420.5 646.7 L428.0 640.5 L425.5 632.9 L420.5 630.4 L425.5 625.4 L438.0 626.7 L448.0 631.7 L456.0 632.9"/>
<path class="ct" d="M440.5 460.0 L440.8 458.3 L441.7 451.7 L443.3 446.7 L446.7 444.2 L450.0 440.0 L456.7 438.3 L465.0 439.2 L470.0 440.8 L468.3 444.2 L461.7 448.3 L458.3 455.0 L460.0 461.7 L461.7 470.0 L462.5 476.7"/>
<path class="ct" d="M474.2 477.5 L478.3 473.3 L485.0 470.8 L493.3 470.0 L498.3 471.7 L506.7 471.7 L515.0 471.3 L520.8 470.0 L523.3 465.0 L526.7 460.8 L530.0 460.0 L533.3 462.5 L540.0 464.2 L546.7 462.5 L553.3 461.7 L560.0 460.8 L568.3 459.7 L576.7 459.7 L581.7 463.3 L584.0 466.7 L589.0 468.7"/>
<path class="ct" d="M460.0 513.0 L456.7 506.7 L458.3 500.0 L465.0 493.3 L473.3 489.2"/>
<path class="ct" d="M500.8 486.3 L515.0 487.5"/>
<path class="ct" d="M534.2 477.5 L543.3 478.3 L553.3 475.0 L560.0 473.3 L565.0 472.5 L567.5 466.7 L573.3 465.0 L578.3 466.7 L584.0 470.8"/>
<path class="ct" d="M467.6 491.3 L460.1 497.6 L457.0 505.1 L460.1 513.9 L463.8 522.7 L471.3 526.4 L477.6 523.9 L477.6 515.1 L480.1 513.9 L482.6 518.9 L485.1 530.2 L487.6 540.2 L486.4 545.2 L472.6 544.7 L462.6 546.5 L456.3 554.0 L457.5 562.8 L454.5 570.3 L458.8 577.8 L467.6 584.1 L475.1 590.3 L481.4 596.6 L488.9 602.9 L497.6 605.4 L507.7 606.6 L513.9 602.9 L516.4 596.6 L522.7 594.8 L527.7 600.4 L530.2 607.9 L529.7 617.9 L532.7 626.7 L540.3 629.2 L544.0 632.9 L542.8 640.5 L545.3 646.7 L552.8 651.7 L560.3 656.7"/>
<path class="ct" d="M577.8 632.9 L577.8 620.4 L580.4 612.9 L584.1 605.4 L585.4 597.8 L590.4 594.1 L600.4 595.3 L612.9 597.3"/>
<path class="ct" d="M579.1 565.3 L587.9 563.3 L597.9 565.3 L606.7 562.8 L610.4 565.3 L607.9 570.3 L600.4 574.0 L590.4 577.8 L580.4 577.3 L572.8 580.3"/>
<path class="ct" d="M633.0 540.2 L639.2 542.7 L642.5 546.5 L639.2 549.7 L633.0 549.0"/>
<path class="ct" d="M614.0 597.5 L607.3 596.7 L601.5 592.5 L600.7 588.3 L604.8 582.5 L610.7 578.7 L616.5 579.2 L619.8 582.5"/>
<path class="ct" d="M584.0 595.8 L590.7 595.0 L597.3 596.7 L605.7 598.3 L613.2 598.0"/>
<path class="ct" d="M623.2 565.8 L627.3 563.0 L634.0 564.2 L640.7 565.8 L645.7 565.0"/>
<path class="ct" d="M657.3 573.3 L657.3 578.3 L650.7 580.8 L649.8 590.0 L650.7 595.0 L655.7 600.0 L662.3 604.2 L665.7 610.0 L665.7 616.7"/>
<path class="ct" d="M642.3 575.0 L644.0 581.7 L643.2 590.0 L644.8 596.7 L650.7 601.7 L657.3 605.0 L661.5 610.0 L662.0 616.7"/>
<path class="ct" d="M623.2 575.0 L627.3 579.2 L634.0 581.7 L639.0 585.0 L638.2 590.0 L632.3 592.5 L627.0 593.3 L629.0 596.7 L635.7 600.0 L640.7 605.0 L647.3 610.8 L654.0 616.7 L659.0 620.0"/>
<path class="ct" d="M724.8 561.7 L714.0 561.7 L708.2 564.2 L706.5 573.3 L700.7 576.7 L690.7 578.3 L681.5 581.7 L676.5 586.7 L677.3 590.8 L684.0 592.5 L692.3 593.3 L700.7 595.0 L707.3 599.2"/>
<path class="ct" d="M707.3 600.0 L699.0 600.0 L694.8 602.5 L697.3 606.7 L704.0 608.3 L710.7 609.2"/>
<path class="ct" d="M584.0 631.7 L594.0 632.5 L605.7 633.3 L614.0 630.8 L621.5 631.7 L627.3 637.5 L633.2 642.5 L637.3 637.5 L642.3 635.0 L649.0 635.8 L651.5 640.0 L650.7 648.3 L649.8 650.0 L647.3 660.0 L648.2 668.3"/>
<path class="ct" d="M660.7 638.3 L664.0 646.7 L663.2 646.7 L664.0 653.3 L659.8 659.2 L657.3 665.0 L658.2 671.7 L661.5 675.0"/>
<path class="ct" d="M671.5 628.3 L674.8 626.7 L679.0 628.3 L682.3 636.7 L684.0 640.0 L680.7 646.7 L680.7 648.3 L678.2 652.5"/>
<path class="ct" d="M478.3 595.0 L485.0 602.5 L493.3 605.8 L503.3 604.2 L513.3 605.8 L516.7 600.0 L518.3 595.0"/>
<path class="ct" d="M525.0 595.0 L530.0 601.7 L531.7 608.3 L531.3 618.3 L531.7 628.3 L538.3 630.0 L543.3 630.8 L540.0 636.7 L538.0 641.7 L540.0 646.7 L546.7 650.0 L555.0 653.3 L560.0 658.3"/>
<path class="ct" d="M440.0 630.8 L448.3 631.7 L456.7 630.8 L458.3 623.3 L460.8 615.0 L466.7 612.5 L478.3 611.7 L491.7 610.8 L503.3 610.8 L513.3 611.7 L519.2 615.8 L521.3 623.3 L518.3 630.8 L511.7 635.0 L498.3 637.5"/>
<path class="ct" d="M482.5 622.5 L475.8 626.7 L472.5 635.0 L472.5 641.7 L465.0 645.0 L460.8 648.3 L462.5 655.0 L464.2 660.0 L470.0 662.5 L481.7 662.5 L491.7 660.8 L498.3 661.7 L506.7 665.8 L515.0 669.2 L530.0 670.0 L530.8 678.3 L530.8 685.8 L535.0 691.7 L541.7 698.3 L548.3 697.5 L553.3 693.3 L560.0 690.8 L573.3 691.7 L584.0 689.2"/>
<path class="ct" d="M440.0 666.7 L448.3 659.2 L456.7 661.7 L463.3 665.0 L473.3 665.8 L483.3 665.0 L491.7 663.3 L498.3 665.8 L505.0 670.0 L510.0 674.2 L511.7 680.0 L509.2 688.3 L506.7 693.3 L498.3 696.7 L490.0 700.0"/>
<path class="ct" d="M468.3 705.0 L458.3 705.8 L451.7 708.3 L449.2 715.0 L449.2 720.8"/>
<path class="ct" d="M440.0 701.7 L445.0 698.3 L451.7 691.7 L452.5 685.8 L447.5 683.3 L443.3 680.0 L445.8 675.8 L453.3 675.0 L456.7 670.8 L465.0 672.5 L473.3 673.3 L483.3 670.8 L493.3 668.3 L500.0 670.8 L504.2 676.7 L503.3 685.0 L496.7 688.3 L488.3 689.2 L481.7 685.8 L475.8 683.3"/>
<path class="ct" d="M458.3 695.8 L450.0 695.8"/>
<path class="ct" d="M521.7 680.0 L516.7 679.2 L513.3 681.7 L513.3 685.8 L518.3 690.0 L523.3 695.0 L528.3 699.2 L530.8 703.3"/>
<path class="ct" d="M503.3 700.8 L496.7 703.3 L489.2 709.2 L493.3 713.3 L498.3 715.8 L505.0 714.2"/>
<path class="ct" d="M515.0 696.7 L515.0 705.0 L516.7 711.7 L521.7 716.7 L526.7 720.8"/>
<path class="ct" d="M462.5 720.8 L463.3 716.7 L466.7 715.8 L469.7 719.2 L469.7 720.8"/>
<path class="ct" d="M580.0 608.3 L578.3 616.7 L579.2 626.7 L573.3 633.3 L568.3 640.0 L566.7 643.3"/>
<path class="ct" d="M584.0 631.7 L594.0 631.7 L605.7 632.5 L614.0 630.0 L621.5 631.7 L627.3 637.5 L633.2 642.5 L637.3 637.5 L642.3 635.3 L649.0 636.3 L651.0 640.8 L649.8 650.0"/>
<path class="ct" d="M641.5 688.3 L640.7 693.3 L645.7 700.0 L652.3 705.0 L653.2 710.0 L649.0 712.5 L642.3 714.2 L635.7 710.0 L632.3 708.3"/>
<path class="ct" d="M600.7 672.5 L605.7 676.7 L612.3 678.3 L617.3 675.8 L619.8 673.3"/>
<path class="ct" d="M621.5 670.8 L625.7 666.7 L629.8 661.7"/>
<path class="ct" d="M637.3 655.0 L638.2 663.3 L635.7 670.0 L631.5 676.7 L628.2 681.7 L624.0 678.3 L622.3 675.0"/>
<path class="ct" d="M589.0 635.8 L592.3 642.5 L597.3 645.0 L600.7 648.3 L597.3 652.5 L592.3 650.8"/>
<path class="ct" d="M584.0 653.3 L592.3 656.7 L596.5 659.2 L594.8 666.7 L591.5 676.7 L587.3 685.0 L584.0 690.0"/>
<path class="ct" d="M627.3 595.0 L635.7 598.3 L640.7 604.2 L647.3 610.8 L654.0 616.7 L659.0 620.0"/>
<path class="ct" d="M643.2 595.0 L650.7 600.0 L659.0 604.2 L664.8 607.5 L666.5 613.3 L665.7 618.3"/>
<path class="ct" d="M671.5 628.3 L674.8 626.3 L679.0 628.3 L682.3 635.0 L683.7 640.0 L680.7 648.3"/>
<path class="ct" d="M680.7 675.8 L685.7 676.7 L690.7 685.8"/>
<path class="ct" d="M690.7 688.3 L697.3 693.3 L704.0 693.3 L710.7 697.5 L716.5 703.3 L721.5 698.3 L724.8 690.0"/>
<path class="ct" d="M694.8 601.7 L699.0 606.7 L705.7 608.3"/>
<path class="ct" d="M608.2 720.8 L609.0 713.3 L614.0 709.2 L620.7 707.5 L627.3 709.2 L631.5 715.0 L632.3 720.8"/>
<path class="ct" d="M594.0 711.7 L598.2 716.7 L599.8 720.8"/>
<path class="ct" d="M661.5 720.8 L663.2 715.0 L669.0 710.0 L674.0 706.7"/>
<path class="ct" d="M717.3 720.8 L718.2 715.0 L722.3 711.7 L725.7 710.8"/>
<path class="ct" d="M395.9 612.6 L394.1 630.1 L393.4 650.2 L396.6 662.7 L398.4 670.2 L395.4 680.3 L395.4 687.8 L400.4 691.5 L405.4 685.3 L405.9 677.7 L402.9 672.7 L410.4 667.7 L423.0 662.7 L438.0 658.9 L448.0 658.9 L456.0 661.5"/>
<path class="ct" d="M380.4 711.6 L382.9 706.6 L390.4 705.3 L397.9 700.3 L402.9 702.8 L400.4 696.5"/>
<path class="ct" d="M417.4 720.4 L419.2 712.8 L424.2 710.3 L428.0 715.3 L429.2 720.4"/>
<path class="ct" d="M456.0 674.0 L448.0 676.5 L444.3 680.3 L450.5 685.3 L448.0 692.8 L440.5 697.8 L443.0 701.6 L456.0 697.8"/>
<path class="ct" d="M325.0 357.5 L327.5 362.5 L332.5 366.7 L337.5 366.7 L339.2 361.7 L336.7 357.5 L333.3 355.8Z"/>
<path class="ct" d="M676.6 328.9 L681.7 331.4 L684.9 336.4 L682.9 344.0 L675.4 349.0 L666.6 352.7 L657.8 354.0 L652.3 349.0 L650.3 340.2 L654.1 332.7 L659.1 328.9Z"/>
<path class="ct" d="M637.8 401.6 L627.8 404.1 L629.0 410.4 L635.3 416.6 L645.3 420.4 L656.6 421.7 L657.8 410.4 L662.9 400.4 L663.4 391.6 L659.1 386.6 L652.8 387.8 L647.8 392.8Z"/>
<path class="ct" d="M513.3 644.2 L503.3 643.3 L491.7 644.2 L484.2 644.7 L484.2 647.5 L490.0 651.7 L498.3 655.0 L506.7 657.5 L511.7 658.3 L515.0 653.3 L521.7 652.5 L527.5 651.7 L530.0 647.5 L530.8 643.3Z"/>
<path class="ct" d="M542.8 587.1 L545.3 587.1 L545.3 589.6 L542.8 589.6Z"/>
<path class="ct" d="M581.5 499.5 L581.1 500.9 L580.0 501.5 L578.9 500.9 L578.5 499.5 L578.9 498.1 L580.0 497.5 L581.1 498.1Z"/>
<path class="ct" d="M577.6 663.5 L577.1 664.8 L576.0 665.3 L574.9 664.8 L574.4 663.5 L574.9 662.2 L576.0 661.7 L577.1 662.2Z"/>
<path class="ct" d="M721.0 87.5 L720.4 89.6 L719.0 90.5 L717.6 89.6 L717.0 87.5 L717.6 85.4 L719.0 84.5 L720.4 85.4Z"/>
<path class="ct" d="M484.3 327.7 L483.9 329.0 L483.0 329.5 L482.1 329.0 L481.7 327.7 L482.1 326.4 L483.0 325.9 L483.9 326.4Z"/>
<path class="ct" d="M481.0 314.0 L480.7 315.0 L480.0 315.4 L479.3 315.0 L479.0 314.0 L479.3 313.0 L480.0 312.6 L480.7 313.0Z"/>
<path class="ct" d="M676.2 497.0 L675.6 497.9 L674.0 498.3 L672.4 497.9 L671.8 497.0 L672.4 496.1 L674.0 495.7 L675.6 496.1Z"/>
<path class="ct" d="M725.0 241.5 L720.0 241.0 L716.7 243.0 L717.5 247.0 L720.0 252.0 L721.0 258.0 L720.5 262.0"/>
<polygon points="490.8,60.2 506.3,60.2 505.3,66.8 500.8,67.7 498.3,71.0 497.0,77.7 495.8,80.2 492.5,71.0" fill="#f4f4f4"/>
<polygon points="475.8,99.7 479.2,100.7 480.0,106.8 482.5,110.2 484.2,107.7 486.7,110.2 490.0,107.7 494.2,105.3 495.8,107.7 493.3,111.8 488.3,112.7 484.2,114.3 480.8,118.5 478.7,121.8 476.7,122.7 475.8,104.3" fill="#f4f4f4"/>
<polygon points="429.2,203.0 443.7,200.3 442.5,206.7 441.7,213.3 440.8,215.3 433.3,217.3 429.2,214.2 429.2,209.2" fill="#f4f4f4"/>
<polygon points="435.0,246.3 440.0,244.3 442.5,246.7 440.0,253.3 437.0,252.0" fill="#f4f4f4"/>
<polygon points="443.3,275.0 452.3,275.0 452.3,280.3 450.0,284.2 447.5,287.0 444.0,283.3" fill="#f4f4f4"/>
<polygon points="443.3,291.8 448.0,291.3 448.0,297.0 443.3,296.3" fill="#f4f4f4"/>
<polygon points="433.3,303.3 447.3,304.3 444.2,310.0 442.5,320.0 440.0,325.7 436.7,324.0 437.7,316.7 435.0,310.0" fill="#f4f4f4"/>
<polygon points="445.0,330.0 456.7,335.0 457.2,344.2 453.3,340.5 448.8,337.2 445.0,334.8" fill="#f4f4f4"/>
<polygon points="413.3,323.3 416.7,326.3 420.0,327.2 421.7,325.5 422.5,330.8 426.7,334.2 431.7,336.7 426.7,339.7 422.5,341.3 420.5,344.0 419.2,336.7 416.3,330.0" fill="#f4f4f4"/>
<polygon points="431.7,348.0 435.8,346.3 437.0,353.3 434.2,357.0 431.3,351.7" fill="#f4f4f4"/>
<polygon points="433.3,362.0 440.0,364.7 445.8,368.0 449.7,370.5 450.0,378.3 446.7,383.3 445.0,386.7 440.0,378.3 435.8,373.3 434.2,368.3" fill="#f4f4f4"/>
<polygon points="456.0,369.7 460.8,365.0 466.7,364.7 466.7,371.7 470.0,376.2 456.0,377.0" fill="#f4f4f4"/>
<polygon points="285.3,358.3 290.8,354.2 286.7,350.8 288.0,348.0 294.2,344.7 298.3,338.8 303.3,333.7 305.8,330.3 308.3,334.5 313.3,334.5 315.8,332.0 319.5,333.0 321.2,338.8 323.3,340.5 327.8,340.5 327.8,343.7 323.3,348.3 324.2,356.7 320.0,357.5 313.3,354.2 299.2,354.2 295.0,357.5 290.0,364.5 288.0,361.2" fill="#f4f4f4"/>
<polygon points="350.0,324.5 360.0,321.2 370.0,318.7 380.0,317.3 383.7,318.7 378.3,320.8 370.0,321.7 361.7,324.2 353.3,326.7" fill="#f4f4f4"/>
<polygon points="674.8,685.0 677.3,690.0 678.2,696.7 682.3,701.7 687.3,700.8 690.7,696.7 691.5,688.3 694.8,687.5 699.0,690.0 695.7,698.3 694.0,703.3 694.8,710.0 700.7,713.3 705.7,716.7 708.2,723.3 676.5,723.3 674.8,711.7 674.0,705.8 669.0,701.7 672.3,696.7 674.0,690.0" fill="#f4f4f4"/>
<polygon points="678.2,689.7 691.0,689.7 690.7,696.7 687.3,700.8 682.3,701.7 678.2,696.7" fill="rgb(246,192,40)"/>
<polygon points="98.0,56.0 491.7,56.0 491.7,61.0 493.3,71.0 495.8,79.3 496.7,87.7 495.0,91.8 496.7,93.5 500.0,98.5 503.3,104.3 505.8,112.7 507.0,118.5 504.2,116.8 500.8,112.7 496.7,106.8 494.2,105.7 490.0,107.7 486.7,110.2 484.2,107.7 482.5,110.2 480.0,106.8 479.2,101.0 477.5,99.7 476.7,102.7 478.3,107.7 478.7,116.0 478.3,122.7 477.0,127.7 480.8,133.5 476.7,136.0 473.3,141.0 467.5,142.7 464.2,148.5 459.2,152.7 455.8,157.7 455.3,164.3 459.2,169.3 460.8,172.7 465.8,175.2 470.0,178.5 469.2,180.0 468.3,186.7 464.2,188.3 457.5,187.5 454.2,190.0 453.3,195.0 448.3,195.8 445.0,196.7 443.7,200.8 440.0,200.8 430.8,203.3 430.0,209.2 430.0,214.2 433.3,216.7 437.5,215.8 440.8,215.0 444.2,215.8 448.3,217.5 455.0,219.2 458.3,222.5 457.5,228.3 455.8,233.3 450.0,237.5 444.2,240.8 440.0,245.0 435.8,246.7 437.5,251.7 440.8,255.0 444.2,259.2 446.7,262.5 450.0,265.0 455.0,263.3 458.7,263.3 460.0,268.3 461.7,275.0 462.0,279.2 459.2,280.8 453.3,280.0 452.0,280.0 451.7,275.8 444.2,275.8 444.7,283.3 447.5,286.7 447.5,291.7 444.2,292.5 444.2,295.8 447.5,296.7 448.3,303.3 446.7,305.0 434.2,304.2 435.8,310.0 438.3,316.7 437.5,323.3 440.0,325.0 442.5,321.7 448.3,319.2 450.0,323.3 456.7,321.7 459.2,323.3 458.3,328.3 455.0,329.7 449.2,329.2 445.8,330.8 445.8,334.2 449.2,336.7 453.3,340.0 456.7,343.3 458.3,353.3 460.0,360.8 460.8,365.8 456.7,370.0 456.7,376.7 454.2,377.5 452.5,371.7 450.0,370.0 445.0,366.7 440.0,364.2 434.2,362.5 432.5,360.0 434.2,356.7 432.5,348.3 430.0,349.2 423.3,346.7 420.8,343.3 422.5,340.8 426.7,339.2 430.8,336.7 426.7,334.2 422.5,330.8 421.7,325.8 420.0,327.5 416.7,326.7 414.2,324.2 411.7,327.5 406.7,330.8 405.8,330.8 402.5,328.3 400.8,323.3 398.3,318.3 393.3,317.2 380.0,317.8 370.0,319.2 360.0,321.7 350.0,325.0 341.7,329.2 335.8,332.5 332.5,335.8 331.7,339.2 327.5,340.8 323.3,340.8 320.8,339.2 319.2,333.3 315.8,332.5 313.3,335.0 308.3,335.0 305.8,330.8 303.3,334.2 298.3,339.2 294.2,345.0 288.3,348.3 287.5,350.8 290.8,354.2 285.8,358.3 288.3,360.8 290.0,364.2 293.3,361.7 297.5,359.2 300.8,360.0 300.0,365.8 296.7,371.7 291.7,376.7 286.7,378.0 285.0,377.0 278.3,380.0 275.0,380.8 275.0,385.0 274.7,395.0 270.0,405.0 263.3,416.7 258.3,428.3 255.0,436.7 251.7,450.0 250.0,463.3 247.5,478.3 245.0,493.3 243.7,500.0 244.2,515.0 245.8,528.3 248.3,541.7 251.7,553.3 256.7,565.0 263.3,573.3 270.0,579.2 271.7,590.0 273.3,603.3 274.2,603.3 278.3,615.0 280.0,631.7 282.5,651.7 284.2,665.0 283.7,678.3 284.2,691.7 286.7,708.3 288.7,720.8 288.7,726.0 98.0,726.0" fill="#6b6b6b" stroke="#111" stroke-width="1" stroke-linejoin="round" shape-rendering="crispEdges"/>
<polygon points="505.8,56.0 505.8,61.0 507.5,66.0 510.0,72.7 513.3,77.7 515.8,82.7 519.2,83.5 525.0,81.0 524.2,76.0 520.8,74.3 519.2,71.0 523.3,68.5 524.2,63.5 530.0,63.5 531.3,61.0 531.3,56.0" fill="#6b6b6b" stroke="#111" stroke-width="1" stroke-linejoin="round" shape-rendering="crispEdges"/>
<polygon points="486.7,114.3 490.0,113.0 493.3,113.5 494.2,117.7 491.7,120.2 491.3,124.3 494.2,126.0 495.0,130.2 491.7,131.0 489.2,127.7 487.5,122.7 485.8,117.7" fill="#6b6b6b" stroke="#111" stroke-width="1" stroke-linejoin="round" shape-rendering="crispEdges"/>
<polygon points="477.1,368.1 477.4,371.2 476.6,373.9 474.9,375.8 472.6,376.4 470.2,375.6 468.2,373.7 466.9,370.9 466.6,367.8 467.4,365.1 469.1,363.2 471.4,362.6 473.8,363.4 475.8,365.3" fill="#6b6b6b" stroke="#111" stroke-width="1" stroke-linejoin="round" shape-rendering="crispEdges"/>
<polygon points="416.7,363.3 419.7,364.2 420.3,371.7 417.5,374.2 415.8,370.0" fill="#6b6b6b" stroke="#111" stroke-width="1" stroke-linejoin="round" shape-rendering="crispEdges"/>
<polygon points="435.0,377.5 437.5,376.7 442.5,381.7 445.0,386.7 443.3,389.2 439.2,385.8 435.8,381.7" fill="#6b6b6b" stroke="#111" stroke-width="1" stroke-linejoin="round" shape-rendering="crispEdges"/>
<polygon points="455.0,297.5 457.5,300.0 459.2,305.0 456.7,305.0 455.0,301.7" fill="#6b6b6b" stroke="#111" stroke-width="1" stroke-linejoin="round" shape-rendering="crispEdges"/>
<polygon points="324.2,348.3 327.5,345.0 330.0,350.0 334.2,355.8 332.5,357.5 328.3,355.0 325.0,351.7" fill="#6b6b6b" stroke="#111" stroke-width="1" stroke-linejoin="round" shape-rendering="crispEdges"/>
<text class="cl" x="329.7" y="379.0" text-anchor="middle" transform="rotate(10 329.7 375.0)">8</text>
<text class="cl" x="383.3" y="369.8" text-anchor="middle" transform="rotate(0 383.3 365.8)">9</text>
<text class="cl" x="379.0" y="330.7" text-anchor="middle" transform="rotate(100 379.0 326.7)">7</text>
<text class="cl" x="332.5" y="454.0" text-anchor="middle" transform="rotate(15 332.5 450.0)">10</text>
<text class="cl" x="341.7" y="422.3" text-anchor="middle" transform="rotate(-70 341.7 418.3)">10</text>
<text class="cl" x="395.8" y="438.0" text-anchor="middle" transform="rotate(-50 395.8 434.0)">10</text>
<text class="cl" x="408.5" y="474.5" text-anchor="middle" transform="rotate(-62 408.5 470.5)">11</text>
<text class="cl" x="480.0" y="385.0" text-anchor="middle" transform="rotate(32 480.0 381.0)">11</text>
<text class="cl" x="517.5" y="410.5" text-anchor="middle" transform="rotate(-30 517.5 406.5)">12</text>
<text class="cl" x="467.5" y="487.5" text-anchor="middle" transform="rotate(5 467.5 483.5)">13</text>
<text class="cl" x="489.5" y="487.3" text-anchor="middle" transform="rotate(5 489.5 483.3)">14</text>
<text class="cl" x="525.0" y="484.8" text-anchor="middle" transform="rotate(-30 525.0 480.8)">14</text>
<text class="cl" x="292.5" y="544.0" text-anchor="middle" transform="rotate(-30 292.5 540.0)">11</text>
<text class="cl" x="332.5" y="567.3" text-anchor="middle" transform="rotate(-60 332.5 563.3)">11</text>
<text class="cl" x="345.0" y="558.0" text-anchor="middle" transform="rotate(-60 345.0 554.0)">11</text>
<text class="cl" x="322.0" y="571.0" text-anchor="middle" transform="rotate(-60 322.0 567.0)">1</text>
<text class="cl" x="315.8" y="593.0" text-anchor="middle" transform="rotate(-15 315.8 589.0)">11</text>
<text class="cl" x="394.0" y="603.0" text-anchor="middle" transform="rotate(90 394.0 599.0)">12</text>
<text class="cl" x="410.4" y="609.4" text-anchor="middle" transform="rotate(-80 410.4 605.4)">13</text>
<text class="cl" x="481.0" y="205.6" text-anchor="middle" transform="rotate(-55 481.0 201.6)">11</text>
<text class="cl" x="550.0" y="71.5" text-anchor="middle" transform="rotate(-55 550.0 67.5)">11</text>
<text class="cl" x="562.5" y="257.0" text-anchor="middle" transform="rotate(15 562.5 253.0)">11</text>
<text class="cl" x="584.3" y="249.0" text-anchor="middle" transform="rotate(-5 584.3 245.0)">11</text>
<text class="cl" x="657.3" y="277.8" text-anchor="middle" transform="rotate(-50 657.3 273.8)">12</text>
<text class="cl" x="667.9" y="335.4" text-anchor="middle" transform="rotate(5 667.9 331.4)">12</text>
<text class="cl" x="672.9" y="369.3" text-anchor="middle" transform="rotate(55 672.9 365.3)">12</text>
<text class="cl" x="695.4" y="282.8" text-anchor="middle" transform="rotate(-60 695.4 278.8)">13</text>
<text class="cl" x="718.0" y="275.3" text-anchor="middle" transform="rotate(80 718.0 271.3)">13</text>
<text class="cl" x="644.6" y="403.0" text-anchor="middle" transform="rotate(-50 644.6 399.0)">12</text>
<text class="cl" x="632.0" y="456.5" text-anchor="middle" transform="rotate(-30 632.0 452.5)">11</text>
<text class="cl" x="637.0" y="454.0" text-anchor="middle" transform="rotate(-30 637.0 450.0)">12</text>
<text class="cl" x="674.0" y="450.7" text-anchor="middle" transform="rotate(0 674.0 446.7)">12</text>
<text class="cl" x="724.0" y="379.0" text-anchor="middle" transform="rotate(-60 724.0 375.0)">13</text>
<text class="cl" x="595.0" y="467.0" text-anchor="middle" transform="rotate(-50 595.0 463.0)">12</text>
<text class="cl" x="598.0" y="471.0" text-anchor="middle" transform="rotate(-50 598.0 467.0)">13</text>
<text class="cl" x="685.7" y="493.0" text-anchor="middle" transform="rotate(50 685.7 489.0)">13</text>
<text class="cl" x="611.0" y="535.0" text-anchor="middle" transform="rotate(0 611.0 531.0)">15</text>
<text class="cl" x="629.0" y="549.0" text-anchor="middle" transform="rotate(100 629.0 545.0)">15</text>
<text class="cl" x="571.6" y="573.0" text-anchor="middle" transform="rotate(-50 571.6 569.0)">14</text>
<text class="cl" x="457.0" y="601.3" text-anchor="middle" transform="rotate(60 457.0 597.3)">13</text>
<text class="cl" x="489.0" y="635.7" text-anchor="middle" transform="rotate(60 489.0 631.7)">13</text>
<text class="cl" x="524.0" y="644.0" text-anchor="middle" transform="rotate(0 524.0 640.0)">14</text>
<text class="cl" x="619.8" y="571.5" text-anchor="middle" transform="rotate(-65 619.8 567.5)">14</text>
<text class="cl" x="639.0" y="574.8" text-anchor="middle" transform="rotate(60 639.0 570.8)">12</text>
<text class="cl" x="652.3" y="574.0" text-anchor="middle" transform="rotate(70 652.3 570.0)">13</text>
<text class="cl" x="628.7" y="610.7" text-anchor="middle" transform="rotate(-60 628.7 606.7)">14</text>
<text class="cl" x="663.0" y="629.0" text-anchor="middle" transform="rotate(-65 663.0 625.0)">14</text>
<text class="cl" x="674.0" y="647.3" text-anchor="middle" transform="rotate(-60 674.0 643.3)">14</text>
<text class="cl" x="717.3" y="590.7" text-anchor="middle" transform="rotate(-60 717.3 586.7)">15</text>
<text class="cl" x="713.0" y="609.0" text-anchor="middle" transform="rotate(-45 713.0 605.0)">14</text>
<text class="cl" x="467.5" y="692.3" text-anchor="middle" transform="rotate(-40 467.5 688.3)">11</text>
<text class="cl" x="479.0" y="705.7" text-anchor="middle" transform="rotate(-10 479.0 701.7)">12</text>
<text class="cl" x="523.3" y="690.7" text-anchor="middle" transform="rotate(60 523.3 686.7)">13</text>
<text class="cl" x="508.3" y="709.0" text-anchor="middle" transform="rotate(75 508.3 705.0)">13</text>
<text class="cl" x="536.7" y="718.0" text-anchor="middle" transform="rotate(50 536.7 714.0)">12</text>
<text class="cl" x="564.0" y="663.0" text-anchor="middle" transform="rotate(-50 564.0 659.0)">14</text>
<text class="cl" x="579.0" y="643.0" text-anchor="middle" transform="rotate(-80 579.0 639.0)">11</text>
<text class="cl" x="580.5" y="649.0" text-anchor="middle" transform="rotate(-75 580.5 645.0)">12</text>
<text class="cl" x="574.0" y="654.0" text-anchor="middle" transform="rotate(-60 574.0 650.0)">13</text>
<text class="cl" x="611.5" y="673.0" text-anchor="middle" transform="rotate(10 611.5 669.0)">12</text>
<text class="cl" x="633.0" y="657.3" text-anchor="middle" transform="rotate(60 633.0 653.3)">12</text>
<text class="cl" x="646.5" y="682.3" text-anchor="middle" transform="rotate(-70 646.5 678.3)">13</text>
<text class="cl" x="625.7" y="718.0" text-anchor="middle" transform="rotate(0 625.7 714.0)">14</text>
<text class="cl" x="589.0" y="712.3" text-anchor="middle" transform="rotate(60 589.0 708.3)">13</text>
<text class="cl" x="676.0" y="681.0" text-anchor="middle" transform="rotate(100 676.0 677.0)">14</text>
<text class="cl" x="671.0" y="683.0" text-anchor="middle" transform="rotate(100 671.0 679.0)">13</text>
<text class="cl" x="394.0" y="718.0" text-anchor="middle" transform="rotate(10 394.0 714.0)">12</text>
</g>
<rect x="274" y="60" width="1" height="661" fill="#000"/>
<rect x="448" y="60" width="1" height="661" fill="#000"/>
<rect x="621" y="60" width="1" height="661" fill="#000"/>
<rect x="101" y="280" width="624" height="1" fill="#000"/>
<rect x="101" y="500" width="624" height="1" fill="#000"/>
<g shape-rendering="crispEdges">
<rect x="98" y="56" width="631" height="5" fill="#000"/>
<rect x="98" y="721" width="631" height="4" fill="#000"/>
<rect x="98" y="56" width="4" height="669" fill="#000"/>
<rect x="725" y="56" width="4" height="669" fill="#000"/>
<rect x="102" y="57" width="85" height="2" fill="#fff"/>
<rect x="102" y="722" width="85" height="2" fill="#fff"/>
<rect x="275" y="57" width="86" height="2" fill="#fff"/>
<rect x="275" y="722" width="86" height="2" fill="#fff"/>
<rect x="449" y="57" width="85" height="2" fill="#fff"/>
<rect x="449" y="722" width="85" height="2" fill="#fff"/>
<rect x="622" y="57" width="86" height="2" fill="#fff"/>
<rect x="622" y="722" width="86" height="2" fill="#fff"/>
<rect x="99" y="171" width="2" height="108" fill="#fff"/>
<rect x="726" y="171" width="2" height="108" fill="#fff"/>
<rect x="99" y="391" width="2" height="108" fill="#fff"/>
<rect x="726" y="391" width="2" height="108" fill="#fff"/>
<rect x="99" y="611" width="2" height="108" fill="#fff"/>
<rect x="726" y="611" width="2" height="108" fill="#fff"/>
<rect x="99" y="57" width="2" height="2" fill="#fff"/>
<rect x="99" y="722" width="2" height="2" fill="#fff"/>
<rect x="726" y="57" width="2" height="2" fill="#fff"/>
<rect x="726" y="722" width="2" height="2" fill="#fff"/>
</g>
<text class="ax" transform="translate(90.8 65.8) scale(0.925 1)" text-anchor="end">39°N</text>
<text class="ax" transform="translate(90.8 285.8) scale(0.925 1)" text-anchor="end">38.5°N</text>
<text class="ax" transform="translate(90.8 505.8) scale(0.925 1)" text-anchor="end">38°N</text>
<text class="ax" transform="translate(90.8 725.8) scale(0.925 1)" text-anchor="end">37.5°N</text>
<text class="ax" transform="translate(101.2 744.8) scale(0.925 1)" text-anchor="middle">140.5°E</text>
<text class="ax" transform="translate(274.7 744.8) scale(0.925 1)" text-anchor="middle">141°E</text>
<text class="ax" transform="translate(448.2 744.8) scale(0.925 1)" text-anchor="middle">141.5°E</text>
<text class="ax" transform="translate(621.7 744.8) scale(0.925 1)" text-anchor="middle">142°E</text>
<clipPath id="cbclip"><polygon points="750.5,60 759,51.5 767.5,60 767.5,721 759,730.5 750.5,721"/></clipPath>
<g clip-path="url(#cbclip)" shape-rendering="crispEdges">
<rect x="750" y="50" width="19" height="17" fill="rgb(252,172,127)"/>
<rect x="750" y="67" width="19" height="6" fill="rgb(250,150,115)"/>
<rect x="750" y="73" width="19" height="7" fill="rgb(247,134,107)"/>
<rect x="750" y="80" width="19" height="6" fill="rgb(242,108,94)"/>
<rect x="750" y="86" width="19" height="7" fill="rgb(235,87,85)"/>
<rect x="750" y="93" width="19" height="7" fill="rgb(229,70,79)"/>
<rect x="750" y="100" width="19" height="6" fill="rgb(223,54,71)"/>
<rect x="750" y="106" width="19" height="7" fill="rgb(219,41,62)"/>
<rect x="750" y="113" width="19" height="6" fill="rgb(215,29,54)"/>
<rect x="750" y="119" width="19" height="7" fill="rgb(212,22,47)"/>
<rect x="750" y="126" width="19" height="7" fill="rgb(210,16,41)"/>
<rect x="750" y="133" width="19" height="6" fill="rgb(214,9,34)"/>
<rect x="750" y="139" width="19" height="7" fill="rgb(218,2,28)"/>
<rect x="750" y="146" width="19" height="6" fill="rgb(228,3,21)"/>
<rect x="750" y="152" width="19" height="7" fill="rgb(241,7,14)"/>
<rect x="750" y="159" width="19" height="7" fill="rgb(251,12,9)"/>
<rect x="750" y="166" width="19" height="6" fill="rgb(254,19,6)"/>
<rect x="750" y="172" width="19" height="7" fill="rgb(251,31,5)"/>
<rect x="750" y="179" width="19" height="6" fill="rgb(247,44,5)"/>
<rect x="750" y="185" width="19" height="7" fill="rgb(240,59,5)"/>
<rect x="750" y="192" width="19" height="7" fill="rgb(231,74,5)"/>
<rect x="750" y="199" width="19" height="6" fill="rgb(223,88,5)"/>
<rect x="750" y="205" width="19" height="7" fill="rgb(216,98,5)"/>
<rect x="750" y="212" width="19" height="6" fill="rgb(218,105,5)"/>
<rect x="750" y="218" width="19" height="7" fill="rgb(223,112,5)"/>
<rect x="750" y="225" width="19" height="7" fill="rgb(230,120,5)"/>
<rect x="750" y="232" width="19" height="6" fill="rgb(240,130,5)"/>
<rect x="750" y="238" width="19" height="7" fill="rgb(244,136,7)"/>
<rect x="750" y="245" width="19" height="6" fill="rgb(249,143,9)"/>
<rect x="750" y="251" width="19" height="7" fill="rgb(251,150,12)"/>
<rect x="750" y="258" width="19" height="7" fill="rgb(253,156,16)"/>
<rect x="750" y="265" width="19" height="6" fill="rgb(254,163,19)"/>
<rect x="750" y="271" width="19" height="7" fill="rgb(255,168,22)"/>
<rect x="750" y="278" width="19" height="6" fill="rgb(254,173,26)"/>
<rect x="750" y="284" width="19" height="7" fill="rgb(253,178,29)"/>
<rect x="750" y="291" width="19" height="7" fill="rgb(251,186,34)"/>
<rect x="750" y="298" width="19" height="6" fill="rgb(247,195,41)"/>
<rect x="750" y="304" width="19" height="7" fill="rgb(242,204,49)"/>
<rect x="750" y="311" width="19" height="6" fill="rgb(233,215,60)"/>
<rect x="750" y="317" width="19" height="7" fill="rgb(224,225,71)"/>
<rect x="750" y="324" width="19" height="7" fill="rgb(213,230,77)"/>
<rect x="750" y="331" width="19" height="6" fill="rgb(202,234,84)"/>
<rect x="750" y="337" width="19" height="7" fill="rgb(189,235,90)"/>
<rect x="750" y="344" width="19" height="6" fill="rgb(176,233,96)"/>
<rect x="750" y="350" width="19" height="7" fill="rgb(163,226,98)"/>
<rect x="750" y="357" width="19" height="7" fill="rgb(149,220,100)"/>
<rect x="750" y="364" width="19" height="6" fill="rgb(139,213,100)"/>
<rect x="750" y="370" width="19" height="7" fill="rgb(128,206,100)"/>
<rect x="750" y="377" width="19" height="6" fill="rgb(111,200,90)"/>
<rect x="750" y="383" width="19" height="7" fill="rgb(94,193,77)"/>
<rect x="750" y="390" width="19" height="7" fill="rgb(80,192,67)"/>
<rect x="750" y="397" width="19" height="6" fill="rgb(70,195,60)"/>
<rect x="750" y="403" width="19" height="7" fill="rgb(57,204,54)"/>
<rect x="750" y="410" width="19" height="6" fill="rgb(44,212,47)"/>
<rect x="750" y="416" width="19" height="7" fill="rgb(34,218,43)"/>
<rect x="750" y="423" width="19" height="7" fill="rgb(25,223,41)"/>
<rect x="750" y="430" width="19" height="6" fill="rgb(18,224,42)"/>
<rect x="750" y="436" width="19" height="7" fill="rgb(14,222,46)"/>
<rect x="750" y="443" width="19" height="6" fill="rgb(10,219,51)"/>
<rect x="750" y="449" width="19" height="7" fill="rgb(13,212,60)"/>
<rect x="750" y="456" width="19" height="7" fill="rgb(15,206,69)"/>
<rect x="750" y="463" width="19" height="6" fill="rgb(23,193,80)"/>
<rect x="750" y="469" width="19" height="7" fill="rgb(32,180,91)"/>
<rect x="750" y="476" width="19" height="6" fill="rgb(40,176,100)"/>
<rect x="750" y="482" width="19" height="7" fill="rgb(49,179,109)"/>
<rect x="750" y="489" width="19" height="7" fill="rgb(61,186,122)"/>
<rect x="750" y="496" width="19" height="6" fill="rgb(77,202,142)"/>
<rect x="750" y="502" width="19" height="7" fill="rgb(91,213,159)"/>
<rect x="750" y="509" width="19" height="6" fill="rgb(103,223,175)"/>
<rect x="750" y="515" width="19" height="7" fill="rgb(113,233,192)"/>
<rect x="750" y="522" width="19" height="7" fill="rgb(118,238,206)"/>
<rect x="750" y="529" width="19" height="6" fill="rgb(119,239,219)"/>
<rect x="750" y="535" width="19" height="7" fill="rgb(116,236,232)"/>
<rect x="750" y="542" width="19" height="6" fill="rgb(107,225,240)"/>
<rect x="750" y="548" width="19" height="7" fill="rgb(95,208,245)"/>
<rect x="750" y="555" width="19" height="7" fill="rgb(75,182,245)"/>
<rect x="750" y="562" width="19" height="6" fill="rgb(63,163,243)"/>
<rect x="750" y="568" width="19" height="7" fill="rgb(54,146,239)"/>
<rect x="750" y="575" width="19" height="6" fill="rgb(47,126,236)"/>
<rect x="750" y="581" width="19" height="7" fill="rgb(40,106,235)"/>
<rect x="750" y="588" width="19" height="7" fill="rgb(35,87,236)"/>
<rect x="750" y="595" width="19" height="6" fill="rgb(35,70,239)"/>
<rect x="750" y="601" width="19" height="7" fill="rgb(40,60,242)"/>
<rect x="750" y="608" width="19" height="6" fill="rgb(49,57,244)"/>
<rect x="750" y="614" width="19" height="7" fill="rgb(72,70,237)"/>
<rect x="750" y="621" width="19" height="7" fill="rgb(95,90,229)"/>
<rect x="750" y="628" width="19" height="6" fill="rgb(118,112,219)"/>
<rect x="750" y="634" width="19" height="7" fill="rgb(138,129,212)"/>
<rect x="750" y="641" width="19" height="6" fill="rgb(155,139,206)"/>
<rect x="750" y="647" width="19" height="7" fill="rgb(172,144,199)"/>
<rect x="750" y="654" width="19" height="7" fill="rgb(188,138,193)"/>
<rect x="750" y="661" width="19" height="6" fill="rgb(197,127,190)"/>
<rect x="750" y="667" width="19" height="7" fill="rgb(200,114,190)"/>
<rect x="750" y="674" width="19" height="6" fill="rgb(207,94,197)"/>
<rect x="750" y="680" width="19" height="7" fill="rgb(214,83,204)"/>
<rect x="750" y="687" width="19" height="7" fill="rgb(220,81,210)"/>
<rect x="750" y="694" width="19" height="6" fill="rgb(223,101,213)"/>
<rect x="750" y="700" width="19" height="7" fill="rgb(227,124,218)"/>
<rect x="750" y="707" width="19" height="6" fill="rgb(230,150,225)"/>
<rect x="750" y="713" width="19" height="19" fill="rgb(237,180,232)"/>
</g>
<polygon points="750.5,60 759,51.5 767.5,60 767.5,721 759,730.5 750.5,721" fill="none" stroke="#000" stroke-width="1"/>
<text class="ax" transform="translate(773 65.8) scale(0.925 1)">20</text>
<text class="ax" transform="translate(773 230.8) scale(0.925 1)">15</text>
<text class="ax" transform="translate(773 395.8) scale(0.925 1)">10</text>
<text class="ax" transform="translate(773 560.8) scale(0.925 1)">5</text>
<text class="ax" transform="translate(773 725.8) scale(0.925 1)">0</text>
<text x="744.5" y="719.5" transform="rotate(-90 744.5 719.5)" style="font-size:12.4px;font-weight:bold">Ocean Data View</text>
</svg></body></html>
